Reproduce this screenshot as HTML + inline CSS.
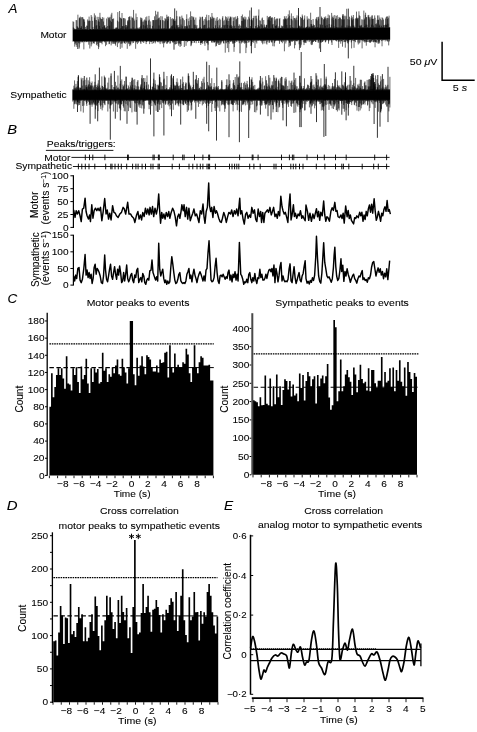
<!DOCTYPE html>
<html><head><meta charset="utf-8"><style>
html,body{margin:0;padding:0;background:#fff;}
body{width:477px;height:732px;overflow:hidden;}
svg{display:block;font-family:"Liberation Sans", sans-serif;filter:grayscale(1);}
text{stroke:#000;stroke-width:0.08px;}
</style></head><body>
<svg width="477" height="732" viewBox="0 0 477 732">
<rect width="477" height="732" fill="#fff"/>
<text transform="translate(8.58 12.90) scale(1.061 1)" text-anchor="start" style="font-size:12.6px;font-style:italic;">A</text>
<text transform="translate(40.38 38.20) scale(1.087 1)" text-anchor="start" style="font-size:9.4px;">Motor</text>
<text transform="translate(10.35 97.90) scale(1.103 1)" text-anchor="start" style="font-size:9.3px;">Sympathetic</text>
<path d="M73.00 21.3V41.7M73.35 27.4V40.9M73.70 21.9V41.0M74.05 28.0V41.7M74.40 29.0V41.7M74.75 29.1V46.7M75.10 29.1V44.1M75.45 29.4V41.9M75.80 29.1V43.0M76.15 20.0V45.0M76.50 29.0V41.7M76.85 20.3V46.9M77.20 26.1V41.7M77.55 27.2V49.0M77.90 14.7V41.7M78.25 28.0V41.7M78.60 27.6V43.3M78.95 29.1V49.0M79.30 18.2V47.6M79.65 17.4V41.7M80.00 18.4V43.5M80.35 16.6V41.7M80.70 28.1V41.7M81.05 27.7V41.1M81.40 26.2V41.6M81.75 17.3V42.4M82.10 17.2V41.6M82.45 29.0V42.3M82.80 17.2V41.6M83.15 29.2V41.6M83.50 18.8V40.7M83.85 20.0V49.4M84.20 19.2V41.6M84.55 21.7V41.6M84.90 29.0V41.6M85.25 29.0V42.2M85.60 26.9V40.9M85.95 29.2V40.8M86.30 29.3V42.1M86.65 25.6V41.6M87.00 28.8V42.1M87.35 25.8V41.6M87.70 19.4V41.0M88.05 20.6V41.6M88.40 29.9V41.6M88.75 21.2V44.7M89.10 16.6V41.6M89.45 20.6V41.3M89.80 29.0V48.5M90.15 20.8V41.6M90.50 29.0V41.6M90.85 29.0V41.6M91.20 15.0V46.4M91.55 29.8V41.6M91.90 16.7V44.3M92.25 29.0V41.6M92.60 20.8V41.4M92.95 26.9V41.6M93.30 29.0V43.2M93.65 29.0V43.2M94.00 29.0V41.6M94.35 13.4V43.7M94.70 17.6V41.6M95.05 19.8V41.6M95.40 15.4V41.2M95.75 29.0V41.6M96.10 25.8V41.6M96.45 20.0V45.2M96.80 25.1V41.6M97.15 16.8V44.0M97.50 29.0V41.6M97.85 28.7V45.8M98.20 21.2V41.5M98.55 19.4V49.1M98.90 16.9V47.2M99.25 21.8V41.3M99.60 25.9V42.4M99.95 12.8V42.6M100.30 17.6V42.8M100.65 28.5V41.5M101.00 18.8V41.5M101.35 28.9V43.0M101.70 19.1V41.5M102.05 19.0V44.3M102.40 17.1V41.5M102.75 27.1V41.5M103.10 28.9V41.0M103.45 21.5V40.8M103.80 17.6V41.5M104.15 26.3V41.5M104.50 25.5V41.5M104.85 25.1V42.5M105.20 28.9V41.5M105.55 27.7V46.2M105.90 28.3V41.5M106.25 27.1V40.6M106.60 18.5V44.8M106.95 28.9V41.5M107.30 28.9V41.6M107.65 26.0V41.0M108.00 16.9V41.5M108.35 29.1V41.5M108.70 18.0V40.7M109.05 19.5V44.2M109.40 17.5V43.9M109.75 25.6V41.8M110.10 16.8V41.0M110.45 20.6V41.1M110.80 28.9V41.7M111.15 14.5V45.4M111.50 21.8V40.5M111.85 12.8V42.4M112.20 28.9V43.7M112.55 19.1V41.5M112.90 19.1V41.5M113.25 28.9V43.8M113.60 18.4V41.8M113.95 29.2V43.4M114.30 29.0V43.8M114.65 28.9V41.5M115.00 28.6V42.3M115.35 27.6V44.3M115.70 28.8V45.7M116.05 28.8V41.9M116.40 27.9V42.5M116.75 27.3V41.5M117.10 27.8V40.5M117.45 20.6V47.1M117.80 12.1V41.4M118.15 28.8V41.7M118.50 28.8V43.3M118.85 21.6V41.4M119.20 28.8V41.4M119.55 11.0V42.5M119.90 17.2V41.4M120.25 28.8V48.9M120.60 18.0V40.5M120.95 28.0V43.8M121.30 18.4V41.4M121.65 19.1V43.6M122.00 13.0V47.7M122.35 26.1V40.7M122.70 26.2V43.4M123.05 28.8V41.9M123.40 18.0V41.4M123.75 18.3V41.0M124.10 26.1V42.7M124.45 29.5V43.1M124.80 18.1V42.5M125.15 19.2V44.0M125.50 24.9V41.4M125.85 27.5V41.4M126.20 28.8V41.5M126.55 25.1V42.7M126.90 27.2V41.4M127.25 25.7V48.8M127.60 20.5V41.4M127.95 21.6V42.3M128.30 20.1V41.7M128.65 17.1V43.4M129.00 28.8V44.1M129.35 16.8V41.9M129.70 16.3V46.2M130.05 20.2V40.8M130.40 28.8V44.1M130.75 28.4V45.3M131.10 16.5V41.4M131.45 28.7V41.3M131.80 28.7V41.3M132.15 17.8V43.3M132.50 17.6V41.3M132.85 29.5V41.3M133.20 27.4V41.5M133.55 9.9V43.0M133.90 18.7V41.0M134.25 28.7V41.3M134.60 20.5V41.3M134.95 28.7V40.9M135.30 29.3V40.7M135.65 28.4V48.8M136.00 13.5V42.4M136.35 19.9V41.4M136.70 28.7V42.3M137.05 17.0V41.4M137.40 27.7V44.1M137.75 28.7V41.3M138.10 29.5V41.3M138.45 28.7V42.7M138.80 27.7V41.3M139.15 28.7V41.3M139.50 28.7V40.7M139.85 27.1V41.3M140.20 28.7V41.3M140.55 17.5V42.5M140.90 25.8V44.0M141.25 20.0V41.3M141.60 17.8V40.6M141.95 18.5V41.2M142.30 21.6V42.1M142.65 28.7V41.3M143.00 28.7V41.2M143.35 24.9V41.3M143.70 21.6V43.0M144.05 20.3V41.3M144.40 28.7V40.4M144.75 19.4V41.3M145.10 25.7V41.3M145.45 20.5V41.3M145.80 17.2V41.1M146.15 28.7V44.1M146.50 20.6V41.9M146.85 16.4V41.8M147.20 24.8V40.5M147.55 27.7V41.3M147.90 28.7V41.3M148.25 28.6V41.2M148.60 20.6V41.2M148.95 15.9V41.2M149.30 19.6V40.9M149.65 28.2V44.1M150.00 24.8V41.7M150.35 28.6V41.2M150.70 21.4V41.7M151.05 28.6V41.7M151.40 28.6V41.9M151.75 28.6V41.2M152.10 29.5V43.9M152.45 25.9V41.2M152.80 20.1V41.2M153.15 20.2V41.2M153.50 20.1V43.2M153.85 28.6V41.2M154.20 28.6V41.1M154.55 16.3V41.2M154.90 20.2V42.2M155.25 28.6V43.4M155.60 10.8V41.2M155.95 19.8V41.7M156.30 28.6V41.0M156.65 14.5V40.3M157.00 19.8V41.2M157.35 28.6V41.2M157.70 29.2V42.2M158.05 19.1V41.9M158.40 17.9V41.2M158.75 28.6V41.2M159.10 25.4V42.5M159.45 17.5V41.2M159.80 28.8V41.2M160.15 19.8V44.1M160.50 20.3V41.2M160.85 16.1V42.1M161.20 28.6V41.2M161.55 28.6V41.3M161.90 28.6V41.2M162.25 16.4V43.6M162.60 20.1V41.2M162.95 28.6V42.5M163.30 20.4V40.7M163.65 28.3V47.4M164.00 29.5V42.9M164.35 28.0V43.3M164.70 21.2V41.7M165.05 18.0V40.8M165.40 19.3V41.4M165.75 28.5V42.4M166.10 19.3V41.1M166.45 28.5V40.9M166.80 14.7V43.7M167.15 17.0V43.7M167.50 20.6V42.3M167.85 16.5V42.6M168.20 18.8V41.3M168.55 16.4V42.1M168.90 28.5V41.1M169.25 28.9V41.1M169.60 28.5V40.3M169.95 28.5V43.7M170.30 17.0V43.3M170.65 27.5V41.1M171.00 28.5V41.0M171.35 18.7V40.6M171.70 25.9V41.1M172.05 26.7V41.1M172.40 25.3V42.5M172.75 18.1V41.8M173.10 19.2V41.1M173.45 19.1V42.6M173.80 20.2V41.1M174.15 28.5V40.8M174.50 20.9V41.8M174.85 27.3V44.3M175.20 21.0V41.1M175.55 28.5V44.4M175.90 19.4V41.1M176.25 25.2V41.1M176.60 10.7V44.0M176.95 16.2V41.1M177.30 25.5V41.1M177.65 27.7V41.1M178.00 25.0V43.3M178.35 27.0V41.1M178.70 28.2V45.7M179.05 28.6V43.8M179.40 16.5V43.2M179.75 26.8V41.1M180.10 16.7V47.0M180.45 28.5V44.0M180.80 19.3V41.1M181.15 24.5V45.9M181.50 28.4V40.8M181.85 15.6V41.0M182.20 26.2V41.0M182.55 17.8V40.1M182.90 28.7V41.0M183.25 18.6V41.0M183.60 28.3V41.0M183.95 29.4V40.5M184.30 20.2V47.0M184.65 26.3V40.6M185.00 28.4V40.6M185.35 26.2V41.0M185.70 28.4V41.1M186.05 26.2V45.8M186.40 19.0V41.0M186.75 14.3V41.0M187.10 26.8V41.0M187.45 25.5V42.2M187.80 28.4V40.8M188.15 18.6V41.0M188.50 28.4V41.2M188.85 21.1V41.0M189.20 28.4V41.0M189.55 25.2V41.0M189.90 17.3V40.9M190.25 28.2V41.3M190.60 11.4V41.0M190.95 19.9V46.2M191.30 28.4V45.3M191.65 16.1V43.5M192.00 28.1V43.0M192.35 28.4V41.0M192.70 16.5V40.9M193.05 28.4V41.0M193.40 17.7V41.0M193.75 16.8V41.0M194.10 28.4V42.9M194.45 19.7V42.5M194.80 24.8V40.1M195.15 24.7V40.5M195.50 29.2V41.0M195.85 17.5V41.0M196.20 26.4V43.2M196.55 28.4V41.0M196.90 25.0V41.0M197.25 28.4V40.8M197.60 29.2V41.0M197.95 28.4V41.0M198.30 28.3V40.9M198.65 28.8V43.0M199.00 27.7V40.0M199.35 27.9V40.9M199.70 19.6V40.9M200.05 16.7V40.9M200.40 27.3V43.0M200.75 17.5V45.0M201.10 28.3V43.2M201.45 29.3V43.0M201.80 28.3V41.9M202.15 16.9V41.9M202.50 16.7V43.7M202.85 28.2V40.9M203.20 20.7V40.9M203.55 25.4V40.9M203.90 28.3V40.9M204.25 19.1V43.5M204.60 24.9V40.7M204.95 24.8V45.8M205.30 28.3V41.8M205.65 17.2V40.9M206.00 19.4V40.5M206.35 28.3V40.9M206.70 14.7V43.0M207.05 20.6V43.4M207.40 28.3V42.7M207.75 28.3V40.5M208.10 27.7V44.7M208.45 20.2V40.9M208.80 15.1V40.9M209.15 27.4V40.9M209.50 28.3V40.9M209.85 20.2V40.9M210.20 28.2V40.0M210.55 16.9V40.9M210.90 17.8V40.4M211.25 19.0V40.9M211.60 28.3V42.2M211.95 13.0V42.8M212.30 28.3V40.9M212.65 16.6V40.9M213.00 18.8V42.4M213.35 27.2V40.9M213.70 17.8V41.6M214.05 17.8V42.6M214.40 28.3V42.5M214.75 28.3V41.8M215.10 28.2V42.0M215.45 25.3V40.8M215.80 20.7V46.5M216.15 18.4V40.8M216.50 28.2V45.9M216.85 28.2V42.6M217.20 17.0V43.8M217.55 20.9V41.4M217.90 27.1V42.6M218.25 19.8V42.8M218.60 28.2V44.9M218.95 28.2V40.7M219.30 25.3V40.8M219.65 18.6V45.0M220.00 28.2V42.4M220.35 28.2V40.8M220.70 19.6V44.4M221.05 28.2V43.2M221.40 27.3V41.5M221.75 29.2V40.8M222.10 28.0V41.7M222.45 17.7V40.8M222.80 16.1V40.8M223.15 25.1V40.8M223.50 28.2V43.1M223.85 21.1V43.6M224.20 19.8V40.4M224.55 25.3V40.4M224.90 28.2V40.8M225.25 24.7V52.7M225.60 16.3V40.8M225.95 28.2V42.6M226.30 17.1V43.3M226.65 19.7V40.3M227.00 20.9V40.4M227.35 18.4V48.1M227.70 25.0V42.0M228.05 16.5V41.4M228.40 28.2V42.3M228.75 21.0V52.2M229.10 28.2V43.7M229.45 18.5V40.8M229.80 25.6V40.8M230.15 16.4V41.7M230.50 16.9V41.5M230.85 18.1V40.8M231.20 25.0V41.8M231.55 26.6V40.7M231.90 16.8V41.0M232.25 26.2V40.7M232.60 28.1V42.6M232.95 28.1V44.0M233.30 21.1V43.4M233.65 17.5V40.7M234.00 28.1V51.8M234.35 17.3V47.1M234.70 25.8V42.8M235.05 28.2V42.8M235.40 28.1V40.7M235.75 16.6V40.7M236.10 19.7V41.4M236.45 18.8V40.7M236.80 28.1V42.0M237.15 28.5V40.7M237.50 16.1V39.8M237.85 17.9V40.7M238.20 28.1V41.4M238.55 25.9V40.3M238.90 29.1V40.7M239.25 24.3V43.2M239.60 29.0V40.7M239.95 25.4V39.9M240.30 28.1V40.7M240.65 28.1V40.7M241.00 25.9V40.7M241.35 16.0V43.5M241.70 21.0V42.3M242.05 28.1V40.9M242.40 14.5V40.7M242.75 20.8V42.0M243.10 17.4V42.9M243.45 17.5V40.7M243.80 19.0V40.7M244.15 28.1V40.7M244.50 19.5V43.6M244.85 16.5V42.1M245.20 28.1V40.7M245.55 19.4V43.2M245.90 17.3V53.1M246.25 28.1V39.7M246.60 26.9V47.7M246.95 28.1V43.0M247.30 28.1V40.7M247.65 19.5V40.7M248.00 28.1V40.7M248.35 28.0V40.0M248.70 16.7V42.6M249.05 28.0V42.1M249.40 18.5V40.7M249.75 10.4V40.0M250.10 28.0V40.6M250.45 26.1V40.6M250.80 28.0V46.0M251.15 20.0V40.4M251.50 19.0V45.6M251.85 20.2V43.6M252.20 20.4V40.6M252.55 28.0V42.0M252.90 18.2V39.8M253.25 28.0V40.6M253.60 17.9V42.7M253.95 15.8V40.6M254.30 28.0V40.6M254.65 28.8V40.3M255.00 28.8V48.0M255.35 15.8V40.6M255.70 26.0V40.1M256.05 28.0V41.9M256.40 15.7V40.6M256.75 18.5V43.5M257.10 28.0V39.8M257.45 27.2V40.6M257.80 28.0V40.6M258.15 25.1V40.6M258.50 15.6V40.2M258.85 9.4V40.6M259.20 26.0V40.6M259.55 27.4V40.1M259.90 20.1V40.2M260.25 20.9V40.6M260.60 28.8V40.6M260.95 24.3V40.6M261.30 28.0V41.4M261.65 24.3V40.6M262.00 18.5V42.9M262.35 17.5V40.5M262.70 25.4V44.3M263.05 28.0V41.2M263.40 27.6V40.6M263.75 20.0V40.8M264.10 28.0V43.5M264.45 24.5V40.6M264.80 26.6V40.6M265.15 27.1V40.5M265.50 27.9V40.5M265.85 27.5V40.5M266.20 25.3V43.5M266.55 24.9V40.1M266.90 24.8V44.5M267.25 15.9V41.8M267.60 28.0V40.5M267.95 19.8V39.9M268.30 18.2V40.4M268.65 17.0V40.5M269.00 19.8V42.5M269.35 17.0V42.8M269.70 16.3V40.5M270.05 20.8V40.5M270.40 16.1V40.3M270.75 27.9V40.2M271.10 17.6V41.6M271.45 18.1V42.4M271.80 27.9V40.5M272.15 17.0V42.5M272.50 24.5V40.5M272.85 18.1V46.2M273.20 24.1V40.2M273.55 27.6V40.5M273.90 28.4V40.5M274.25 28.8V46.4M274.60 17.0V43.0M274.95 20.6V41.5M275.30 19.3V41.1M275.65 25.9V40.5M276.00 26.0V40.5M276.35 24.8V40.5M276.70 18.6V40.5M277.05 18.7V40.5M277.40 27.9V40.4M277.75 18.5V40.5M278.10 27.9V40.5M278.45 27.9V40.5M278.80 26.3V40.5M279.15 27.9V41.2M279.50 18.9V43.8M279.85 18.1V40.0M280.20 27.9V40.5M280.55 27.9V40.5M280.90 27.9V40.5M281.25 27.9V42.0M281.60 25.5V41.6M281.95 27.8V40.4M282.30 26.2V43.2M282.65 27.3V40.4M283.00 25.9V40.4M283.35 19.4V41.6M283.70 28.2V40.6M284.05 19.2V39.8M284.40 16.2V51.3M284.75 19.7V40.4M285.10 17.8V40.4M285.45 19.1V40.3M285.80 18.7V43.5M286.15 16.1V41.6M286.50 19.3V40.4M286.85 25.0V39.7M287.20 27.8V39.7M287.55 18.4V40.4M287.90 27.7V40.4M288.25 14.3V40.8M288.60 17.4V40.4M288.95 27.8V47.1M289.30 10.4V42.5M289.65 15.8V42.9M290.00 25.0V45.9M290.35 27.8V45.5M290.70 27.8V40.4M291.05 18.7V41.2M291.40 13.4V41.6M291.75 19.0V40.4M292.10 27.8V41.2M292.45 27.3V41.7M292.80 20.3V40.4M293.15 16.1V40.4M293.50 27.8V41.1M293.85 27.8V39.6M294.20 18.0V40.4M294.55 27.8V48.4M294.90 17.9V40.4M295.25 18.8V45.1M295.60 27.8V40.4M295.95 20.2V41.0M296.30 17.6V40.4M296.65 27.8V41.1M297.00 15.3V41.5M297.35 27.8V40.6M297.70 27.8V40.4M298.05 20.1V40.4M298.40 16.2V40.3M298.75 27.7V40.0M299.10 26.2V44.3M299.45 25.6V50.1M299.80 27.7V40.3M300.15 26.7V40.3M300.50 16.9V40.6M300.85 27.7V46.7M301.20 26.2V44.7M301.55 17.8V40.3M301.90 18.5V40.0M302.25 14.5V40.0M302.60 16.2V40.3M302.95 27.7V39.4M303.30 27.7V42.2M303.65 19.8V39.7M304.00 27.7V45.1M304.35 18.6V42.9M304.70 15.4V41.8M305.05 28.5V40.3M305.40 27.7V42.9M305.75 27.7V41.7M306.10 27.7V43.1M306.45 26.8V40.3M306.80 27.2V40.3M307.15 16.3V40.0M307.50 19.7V40.3M307.85 25.9V41.4M308.20 18.5V39.8M308.55 27.7V40.3M308.90 27.3V39.4M309.25 18.8V42.1M309.60 27.3V40.3M309.95 26.5V40.3M310.30 27.7V40.7M310.65 12.7V40.3M311.00 23.9V44.4M311.35 20.0V40.3M311.70 24.2V45.1M312.05 25.6V42.8M312.40 26.1V44.6M312.75 27.7V41.9M313.10 19.0V39.6M313.45 24.4V41.9M313.80 25.8V41.3M314.15 28.3V40.2M314.50 25.1V40.9M314.85 27.7V40.3M315.20 27.6V40.2M315.55 27.3V42.0M315.90 18.7V41.9M316.25 19.3V40.2M316.60 17.2V39.7M316.95 27.6V40.2M317.30 20.4V39.9M317.65 27.1V39.4M318.00 17.1V42.6M318.35 16.7V41.0M318.70 18.7V42.6M319.05 27.6V39.4M319.40 27.6V48.5M319.75 28.1V40.2M320.10 24.0V40.2M320.45 25.1V42.2M320.80 27.6V39.6M321.15 27.6V42.9M321.50 16.5V40.2M321.85 18.1V42.0M322.20 17.8V40.2M322.55 24.8V42.0M322.90 27.6V41.4M323.25 27.6V40.2M323.60 19.2V40.6M323.95 19.5V39.7M324.30 16.9V40.2M324.65 18.1V40.2M325.00 18.9V40.2M325.35 25.8V42.4M325.70 16.4V41.9M326.05 18.0V40.2M326.40 27.6V40.3M326.75 19.4V40.3M327.10 25.1V39.6M327.45 18.0V39.8M327.80 28.5V40.2M328.15 14.5V40.2M328.50 27.6V43.7M328.85 18.2V41.3M329.20 24.0V40.2M329.55 15.4V40.2M329.90 27.3V39.3M330.25 27.6V40.2M330.60 27.6V40.2M330.95 27.6V40.2M331.30 24.6V40.2M331.65 12.9V42.5M332.00 18.5V45.0M332.35 27.5V39.3M332.70 17.1V40.1M333.05 15.6V40.1M333.40 17.8V40.3M333.75 20.1V40.1M334.10 26.3V40.1M334.45 28.3V39.9M334.80 15.0V40.1M335.15 27.5V40.1M335.50 19.0V40.1M335.85 18.2V40.9M336.20 16.0V40.1M336.55 27.0V41.4M336.90 19.4V40.4M337.25 15.2V40.1M337.60 27.5V40.1M337.95 27.5V40.1M338.30 27.5V41.8M338.65 18.9V47.9M339.00 16.9V40.5M339.35 27.5V39.9M339.70 18.0V41.7M340.05 17.3V41.2M340.40 18.3V39.8M340.75 27.5V43.7M341.10 27.5V39.5M341.45 19.1V41.3M341.80 25.6V41.1M342.15 20.0V39.4M342.50 15.7V46.7M342.85 14.2V40.1M343.20 14.3V40.1M343.55 19.5V40.1M343.90 16.2V42.2M344.25 27.3V39.1M344.60 19.3V41.9M344.95 15.6V40.1M345.30 27.5V47.7M345.65 27.5V42.0M346.00 16.3V40.1M346.35 27.5V40.6M346.70 8.8V40.1M347.05 25.4V41.3M347.40 27.5V42.8M347.75 19.1V40.8M348.10 27.5V43.6M348.45 27.9V40.0M348.80 25.7V41.8M349.15 19.7V40.0M349.50 16.7V40.0M349.85 27.4V40.4M350.20 25.9V40.0M350.55 27.4V39.8M350.90 27.4V40.0M351.25 17.8V42.4M351.60 15.6V48.4M351.95 19.2V40.0M352.30 20.2V40.5M352.65 17.3V40.4M353.00 25.5V39.1M353.35 15.0V39.6M353.70 18.9V41.0M354.05 25.6V47.8M354.40 27.4V41.3M354.75 27.4V40.0M355.10 27.4V40.0M355.45 18.4V42.2M355.80 27.4V40.0M356.15 18.7V40.0M356.50 11.6V40.0M356.85 17.4V39.2M357.20 18.6V40.0M357.55 18.4V39.9M357.90 19.6V42.5M358.25 17.9V44.5M358.60 28.1V40.2M358.95 11.3V40.0M359.30 15.3V43.4M359.65 25.5V40.0M360.00 16.1V42.5M360.35 26.0V40.0M360.70 27.1V39.6M361.05 24.9V40.6M361.40 25.4V40.0M361.75 19.3V40.0M362.10 27.4V48.4M362.45 27.4V40.0M362.80 19.6V41.1M363.15 27.4V40.0M363.50 27.4V40.3M363.85 10.6V41.7M364.20 20.0V39.1M364.55 18.5V41.3M364.90 26.0V42.7M365.25 14.9V41.4M365.60 12.7V39.6M365.95 24.5V42.2M366.30 17.4V45.7M366.65 17.0V41.9M367.00 24.8V39.9M367.35 27.3V42.0M367.70 27.3V40.0M368.05 15.2V39.0M368.40 16.7V39.9M368.75 14.9V42.0M369.10 28.2V39.2M369.45 17.3V42.7M369.80 19.5V41.9M370.15 27.3V39.0M370.50 27.3V42.8M370.85 16.8V42.1M371.20 18.5V39.9M371.55 24.6V41.5M371.90 15.6V41.2M372.25 15.3V39.9M372.60 19.1V40.0M372.95 19.0V41.9M373.30 18.7V39.9M373.65 25.5V42.4M374.00 27.3V41.9M374.35 27.3V40.2M374.70 15.4V41.6M375.05 17.8V47.3M375.40 23.9V42.0M375.75 27.3V42.3M376.10 27.3V39.0M376.45 23.4V42.5M376.80 24.6V39.6M377.15 19.8V42.6M377.50 15.4V39.9M377.85 27.1V39.9M378.20 20.1V44.0M378.55 19.7V42.8M378.90 15.4V40.8M379.25 26.1V41.6M379.60 24.6V43.4M379.95 17.5V39.9M380.30 19.1V39.9M380.65 27.3V39.9M381.00 27.4V39.1M381.35 25.7V41.1M381.70 20.2V39.8M382.05 17.3V46.3M382.40 27.2V39.8M382.75 18.0V40.5M383.10 27.2V40.4M383.45 19.5V39.8M383.80 25.2V39.8M384.15 25.2V39.8M384.50 27.7V39.8M384.85 27.2V39.8M385.20 24.8V41.4M385.55 18.5V39.8M385.90 24.5V39.8M386.25 17.0V39.8M386.60 25.1V39.8M386.95 16.3V40.9M387.30 16.5V41.3M387.65 19.0V39.8M388.00 23.7V41.7M388.35 17.6V39.4M388.70 27.2V45.4M389.05 15.7V39.5M389.40 27.2V41.4M389.75 27.2V39.8" fill="none" stroke="#000" stroke-width="0.6" />
<path d="M174.70 8.4V34.9M157.90 11.7V35.0M251.40 7.5V34.4M298.50 8.0V34.1M320.00 7.0V34.0M348.30 8.6V33.8M174.00 49.7V34.9M208.00 50.3V34.7M240.00 53.3V34.5M251.40 53.3V34.4M320.60 52.0V34.0M348.30 58.4V33.8M300.20 48.0V34.1" fill="none" stroke="#000" stroke-width="0.8" />
<path d="M73.00 29.90L112.62 29.66L152.25 29.43L191.88 29.19L231.50 28.95L271.12 28.71L310.75 28.48L350.38 28.24L390.00 28.00L390.00 39.00L350.38 39.24L310.75 39.48L271.12 39.71L231.50 39.95L191.88 40.19L152.25 40.43L112.62 40.66L73.00 40.90Z" fill="#000"/>
<path d="M72.80 89.4V101.6M73.15 89.4V100.6M73.50 89.9V99.8M73.85 85.7V108.8M74.20 88.3V100.6M74.55 80.4V104.3M74.90 89.4V103.5M75.25 87.5V101.5M75.60 88.4V100.4M75.95 83.9V103.8M76.30 88.8V104.5M76.65 86.8V100.6M77.00 88.1V100.6M77.35 81.1V102.0M77.70 86.3V101.8M78.05 77.1V101.6M78.40 76.1V105.4M78.75 89.4V103.4M79.10 90.4V100.6M79.45 87.5V105.0M79.80 89.4V103.0M80.15 87.9V100.6M80.50 87.8V100.6M80.85 87.7V111.4M81.20 77.7V99.4M81.55 79.4V100.6M81.90 89.4V100.5M82.25 85.6V99.7M82.60 89.4V106.0M82.95 78.0V99.5M83.30 80.6V112.6M83.65 89.4V100.6M84.00 88.7V105.6M84.35 89.4V100.8M84.70 89.2V100.6M85.05 79.8V99.4M85.40 85.3V100.6M85.75 89.4V100.4M86.10 87.4V102.1M86.45 87.1V104.3M86.80 84.9V106.0M87.15 87.4V102.8M87.50 89.1V100.6M87.85 86.3V100.6M88.20 80.3V100.6M88.55 85.2V101.9M88.90 84.0V100.6M89.25 87.0V105.1M89.60 77.2V103.5M89.95 81.7V104.5M90.30 84.9V99.8M90.65 85.8V100.6M91.00 86.6V105.0M91.35 83.0V103.6M91.70 85.5V100.6M92.05 81.5V106.7M92.40 89.4V104.6M92.75 85.7V100.6M93.10 90.7V103.3M93.45 87.4V102.1M93.80 89.4V103.5M94.15 85.5V105.1M94.50 89.4V100.6M94.85 81.8V104.0M95.20 84.9V102.3M95.55 89.4V109.4M95.90 90.0V104.9M96.25 89.4V105.1M96.60 87.0V100.6M96.95 84.8V106.0M97.30 88.0V103.9M97.65 85.8V99.6M98.00 83.5V111.1M98.35 80.2V102.4M98.70 86.7V102.9M99.05 88.5V100.6M99.40 89.8V100.6M99.75 85.4V100.6M100.10 89.9V104.8M100.45 87.7V106.4M100.80 89.8V109.1M101.15 89.6V100.4M101.50 89.3V100.6M101.85 76.4V105.2M102.20 85.8V110.4M102.55 86.0V100.8M102.90 88.3V107.6M103.25 89.4V102.9M103.60 87.0V100.6M103.95 89.4V100.7M104.30 75.6V103.1M104.65 77.1V104.4M105.00 84.9V105.2M105.35 88.3V100.7M105.70 89.4V100.6M106.05 88.7V100.4M106.40 88.7V100.6M106.75 89.4V100.6M107.10 87.7V100.6M107.45 89.4V100.6M107.80 82.6V111.5M108.15 89.4V103.8M108.50 89.8V100.6M108.85 77.7V104.5M109.20 89.4V100.6M109.55 89.4V100.6M109.90 89.4V108.6M110.25 89.4V100.6M110.60 89.4V105.3M110.95 75.9V105.4M111.30 89.4V104.5M111.65 89.6V100.6M112.00 85.0V100.6M112.35 89.4V104.2M112.70 89.4V100.6M113.05 89.4V100.6M113.40 90.3V111.5M113.75 87.0V100.6M114.10 89.4V102.3M114.45 90.2V100.6M114.80 87.0V101.3M115.15 88.6V100.6M115.50 81.8V100.9M115.85 89.4V103.4M116.20 89.4V103.5M116.55 85.6V100.9M116.90 89.4V100.6M117.25 89.4V111.9M117.60 87.7V100.6M117.95 75.5V104.5M118.30 87.5V100.2M118.65 89.4V104.4M119.00 88.6V102.7M119.35 89.4V108.2M119.70 89.4V100.6M120.05 83.7V108.7M120.40 89.4V103.4M120.75 81.0V110.3M121.10 89.4V101.5M121.45 89.4V104.5M121.80 79.4V104.0M122.15 89.4V100.6M122.50 89.4V101.2M122.85 84.7V100.6M123.20 87.1V105.9M123.55 86.0V107.6M123.90 89.4V102.6M124.25 84.5V111.2M124.60 81.0V100.6M124.95 89.4V100.6M125.30 89.8V111.4M125.65 89.4V100.0M126.00 76.5V103.9M126.35 88.9V101.0M126.70 84.6V100.6M127.05 88.9V100.6M127.40 88.8V99.8M127.75 88.3V105.4M128.10 89.6V100.6M128.45 85.5V111.1M128.80 89.9V100.6M129.15 87.3V100.6M129.50 89.4V101.5M129.85 89.4V107.6M130.20 82.1V100.6M130.55 85.5V108.1M130.90 89.4V100.7M131.25 87.3V100.6M131.60 80.7V100.6M131.95 88.9V112.4M132.30 78.2V100.6M132.65 84.8V100.6M133.00 88.3V100.6M133.35 89.7V100.6M133.70 79.7V100.6M134.05 89.4V101.3M134.40 88.2V111.6M134.75 79.2V102.8M135.10 85.4V100.6M135.45 89.4V103.5M135.80 89.4V111.9M136.15 89.4V100.6M136.50 89.4V111.8M136.85 86.3V100.6M137.20 81.9V103.0M137.55 89.4V100.5M137.90 90.3V100.6M138.25 89.4V100.6M138.60 86.4V104.6M138.95 90.9V106.6M139.30 90.5V102.7M139.65 89.4V104.5M140.00 89.4V108.0M140.35 87.2V104.3M140.70 85.4V100.6M141.05 84.1V100.6M141.40 87.6V99.5M141.75 77.9V108.4M142.10 79.1V104.7M142.45 89.4V100.6M142.80 89.4V105.5M143.15 87.8V102.1M143.50 78.0V101.3M143.85 88.3V100.4M144.20 89.4V108.7M144.55 86.3V100.8M144.90 78.1V100.6M145.25 89.4V100.6M145.60 89.4V100.6M145.95 89.4V100.4M146.30 85.3V100.6M146.65 82.0V100.2M147.00 75.5V99.4M147.35 88.6V100.6M147.70 89.4V99.8M148.05 89.9V100.6M148.40 84.5V100.6M148.75 89.4V104.4M149.10 90.2V109.2M149.45 89.3V105.0M149.80 89.4V100.6M150.15 89.4V103.9M150.50 85.6V100.6M150.85 90.8V102.9M151.20 90.8V100.6M151.55 89.4V99.4M151.90 89.4V106.1M152.25 86.8V100.6M152.60 86.7V100.7M152.95 89.4V99.8M153.30 83.3V102.1M153.65 78.7V100.6M154.00 90.5V100.6M154.35 87.8V103.5M154.70 89.4V103.3M155.05 80.2V105.0M155.40 83.8V105.5M155.75 88.4V100.6M156.10 89.4V110.8M156.45 90.3V100.6M156.80 89.4V99.4M157.15 84.9V103.5M157.50 89.4V112.0M157.85 89.9V104.0M158.20 84.6V100.6M158.55 85.7V102.4M158.90 85.8V100.6M159.25 89.4V104.6M159.60 77.0V109.9M159.95 77.2V99.5M160.30 81.8V99.1M160.65 89.4V104.5M161.00 89.4V99.9M161.35 82.5V99.8M161.70 89.4V108.1M162.05 86.2V100.6M162.40 89.4V101.5M162.75 85.9V103.0M163.10 89.4V100.6M163.45 90.4V103.6M163.80 79.7V101.7M164.15 78.6V100.6M164.50 89.4V100.6M164.85 89.4V100.6M165.20 89.4V103.5M165.55 89.4V104.8M165.90 84.8V103.7M166.25 88.9V101.2M166.60 88.0V100.6M166.95 76.0V100.6M167.30 89.4V100.6M167.65 89.4V100.7M168.00 90.8V104.9M168.35 89.4V104.1M168.70 89.4V100.6M169.05 89.4V106.3M169.40 89.4V103.2M169.75 87.4V100.6M170.10 87.4V109.4M170.45 89.4V105.0M170.80 75.7V100.5M171.15 85.0V100.8M171.50 89.4V100.6M171.85 88.1V100.6M172.20 77.7V100.6M172.55 89.2V103.6M172.90 89.2V100.6M173.25 79.1V109.8M173.60 81.7V99.5M173.95 88.6V99.8M174.30 84.6V100.6M174.65 85.9V99.8M175.00 88.2V100.6M175.35 86.2V105.2M175.70 85.5V104.5M176.05 85.3V100.6M176.40 81.9V100.3M176.75 89.4V103.4M177.10 78.4V100.0M177.45 84.5V103.3M177.80 82.4V99.2M178.15 89.4V105.4M178.50 86.2V104.2M178.85 88.5V106.4M179.20 85.7V101.6M179.55 89.4V100.4M179.90 88.4V103.3M180.25 85.2V103.4M180.60 89.4V99.3M180.95 90.1V103.7M181.30 90.1V100.2M181.65 88.0V99.5M182.00 87.9V100.6M182.35 83.8V103.9M182.70 76.6V100.6M183.05 89.4V105.2M183.40 82.2V104.7M183.75 90.4V105.1M184.10 86.1V102.0M184.45 89.6V100.6M184.80 90.1V100.6M185.15 89.7V103.3M185.50 84.2V103.9M185.85 82.3V103.0M186.20 83.1V100.6M186.55 89.4V100.6M186.90 89.4V105.0M187.25 89.4V111.9M187.60 89.5V102.0M187.95 89.7V100.6M188.30 75.9V103.5M188.65 84.7V102.2M189.00 75.9V105.5M189.35 82.5V100.6M189.70 84.4V100.6M190.05 89.4V101.7M190.40 86.6V101.5M190.75 85.5V103.0M191.10 87.9V110.6M191.45 89.3V105.3M191.80 90.0V109.7M192.15 89.4V100.6M192.50 87.1V101.8M192.85 89.4V100.6M193.20 89.4V100.6M193.55 84.8V99.4M193.90 89.4V99.2M194.25 89.0V100.6M194.60 89.4V102.5M194.95 89.4V100.6M195.30 79.8V100.7M195.65 79.1V100.6M196.00 89.4V100.6M196.35 90.4V100.6M196.70 82.8V100.6M197.05 89.4V102.5M197.40 83.7V100.6M197.75 80.2V100.6M198.10 89.4V102.2M198.45 78.0V106.9M198.80 89.4V100.6M199.15 88.1V100.6M199.50 88.2V100.6M199.85 89.4V103.9M200.20 86.6V100.6M200.55 89.5V100.8M200.90 90.0V101.8M201.25 87.1V100.6M201.60 81.2V100.6M201.95 89.8V99.2M202.30 83.0V105.4M202.65 89.4V100.6M203.00 78.7V100.6M203.35 89.4V104.1M203.70 89.2V100.6M204.05 76.8V100.6M204.40 82.6V102.6M204.75 89.4V99.6M205.10 89.8V100.6M205.45 89.4V103.7M205.80 89.4V99.8M206.15 89.4V100.6M206.50 88.7V107.8M206.85 87.8V99.5M207.20 89.8V103.2M207.55 82.0V100.6M207.90 89.4V102.3M208.25 84.9V106.0M208.60 86.4V103.8M208.95 85.7V100.6M209.30 87.1V103.7M209.65 89.4V100.6M210.00 90.3V100.6M210.35 83.2V102.9M210.70 86.8V100.8M211.05 87.4V100.6M211.40 86.2V101.0M211.75 78.2V111.9M212.10 88.9V100.6M212.45 89.9V104.1M212.80 89.4V100.6M213.15 89.4V100.6M213.50 88.8V100.6M213.85 86.9V99.4M214.20 83.0V100.6M214.55 89.4V100.4M214.90 87.6V108.1M215.25 89.4V111.0M215.60 90.4V102.2M215.95 86.6V101.2M216.30 86.3V100.6M216.65 88.0V100.6M217.00 89.4V106.3M217.35 86.8V99.3M217.70 89.4V100.6M218.05 87.9V107.7M218.40 86.0V100.6M218.75 90.3V99.7M219.10 89.4V101.0M219.45 89.4V99.8M219.80 89.8V111.4M220.15 89.8V100.6M220.50 88.7V100.7M220.85 89.4V100.8M221.20 89.4V100.6M221.55 89.4V105.3M221.90 81.8V103.8M222.25 89.4V100.4M222.60 89.4V104.4M222.95 89.3V102.1M223.30 89.4V104.7M223.65 89.8V100.6M224.00 89.7V104.4M224.35 89.4V105.7M224.70 89.4V111.9M225.05 89.4V104.6M225.40 89.4V101.5M225.75 88.6V99.8M226.10 85.0V103.2M226.45 89.4V100.6M226.80 84.9V100.6M227.15 89.4V100.6M227.50 89.4V100.6M227.85 86.6V104.6M228.20 87.4V104.4M228.55 85.4V100.6M228.90 89.4V105.2M229.25 89.4V100.6M229.60 84.0V100.6M229.95 80.3V104.2M230.30 89.4V100.6M230.65 88.7V99.8M231.00 90.7V100.6M231.35 90.4V103.9M231.70 87.9V104.3M232.05 89.4V103.2M232.40 89.4V104.9M232.75 89.4V104.8M233.10 83.4V111.4M233.45 80.0V104.8M233.80 82.5V101.5M234.15 89.4V100.6M234.50 85.0V102.9M234.85 86.2V99.7M235.20 77.0V100.6M235.55 89.5V100.6M235.90 89.4V104.8M236.25 89.4V101.6M236.60 89.4V100.6M236.95 88.9V103.9M237.30 87.3V110.3M237.65 84.7V100.6M238.00 77.2V105.0M238.35 77.6V100.6M238.70 84.9V99.3M239.05 76.3V100.6M239.40 89.4V112.1M239.75 83.1V111.2M240.10 87.0V100.9M240.45 87.6V99.7M240.80 88.7V100.6M241.15 89.4V100.8M241.50 82.8V111.9M241.85 87.1V100.6M242.20 89.4V100.6M242.55 89.4V104.5M242.90 89.4V105.2M243.25 90.3V104.3M243.60 83.1V103.3M243.95 89.4V104.1M244.30 89.6V101.8M244.65 81.7V100.5M245.00 89.6V102.4M245.35 87.8V105.4M245.70 84.8V100.4M246.05 83.1V99.6M246.40 89.4V100.6M246.75 88.6V101.4M247.10 80.9V104.7M247.45 84.3V100.6M247.80 89.4V103.2M248.15 89.4V101.9M248.50 87.3V100.6M248.85 89.4V100.6M249.20 88.5V100.6M249.55 89.4V110.3M249.90 84.8V108.4M250.25 90.1V100.6M250.60 89.4V101.2M250.95 87.7V104.9M251.30 87.4V100.6M251.65 80.1V101.6M252.00 77.3V101.5M252.35 88.5V100.6M252.70 81.9V104.4M253.05 86.4V100.4M253.40 85.7V100.6M253.75 89.2V100.6M254.10 89.4V100.6M254.45 89.4V112.1M254.80 84.9V100.4M255.15 89.4V100.6M255.50 90.3V100.6M255.85 89.4V112.4M256.20 90.5V99.2M256.55 89.4V106.4M256.90 89.7V110.3M257.25 89.4V105.5M257.60 88.4V100.6M257.95 89.4V100.6M258.30 89.4V100.3M258.65 88.6V100.6M259.00 87.5V100.6M259.35 88.0V100.6M259.70 80.3V100.6M260.05 81.4V105.2M260.40 89.4V100.6M260.75 83.1V101.6M261.10 84.4V100.6M261.45 89.4V105.6M261.80 89.4V103.5M262.15 77.8V105.3M262.50 89.4V100.6M262.85 81.6V100.8M263.20 89.4V100.6M263.55 89.4V100.6M263.90 89.4V100.6M264.25 86.0V103.1M264.60 85.3V100.9M264.95 89.4V105.1M265.30 89.4V104.0M265.65 76.2V108.6M266.00 89.4V104.2M266.35 89.1V104.8M266.70 86.2V103.8M267.05 83.5V103.8M267.40 86.6V101.5M267.75 89.4V100.6M268.10 89.4V102.8M268.45 89.4V100.6M268.80 85.3V105.3M269.15 90.1V100.6M269.50 86.5V105.5M269.85 77.7V103.2M270.20 89.3V100.6M270.55 87.8V104.6M270.90 89.4V102.1M271.25 86.2V100.6M271.60 84.8V100.0M271.95 89.4V100.3M272.30 81.4V105.1M272.65 85.8V105.0M273.00 85.0V112.4M273.35 89.4V109.3M273.70 89.4V99.7M274.05 89.4V100.6M274.40 77.7V102.1M274.75 89.4V100.6M275.10 89.4V103.5M275.45 80.8V100.0M275.80 87.7V101.5M276.15 77.5V106.7M276.50 89.4V105.3M276.85 89.4V102.9M277.20 89.4V102.7M277.55 90.7V99.9M277.90 86.8V112.2M278.25 81.1V100.6M278.60 79.5V100.6M278.95 81.2V107.7M279.30 89.4V105.4M279.65 90.8V107.0M280.00 83.3V100.6M280.35 78.2V100.6M280.70 89.4V100.6M281.05 89.4V99.4M281.40 84.6V102.8M281.75 88.2V100.6M282.10 77.0V100.4M282.45 85.5V105.2M282.80 85.2V107.9M283.15 89.4V103.6M283.50 85.5V100.6M283.85 86.0V100.1M284.20 86.6V100.6M284.55 89.4V100.6M284.90 78.5V103.8M285.25 81.2V100.6M285.60 90.0V100.1M285.95 77.2V102.4M286.30 79.4V102.6M286.65 90.5V100.6M287.00 89.4V104.5M287.35 90.3V101.6M287.70 85.9V103.5M288.05 89.4V102.4M288.40 89.4V106.9M288.75 90.4V99.7M289.10 80.6V102.4M289.45 89.4V100.1M289.80 88.8V100.6M290.15 89.4V100.2M290.50 90.1V100.6M290.85 83.0V106.0M291.20 81.4V103.9M291.55 89.4V106.8M291.90 80.5V100.6M292.25 85.0V100.5M292.60 89.6V103.6M292.95 89.4V100.8M293.30 82.4V103.6M293.65 89.9V102.6M294.00 89.4V100.6M294.35 87.6V100.4M294.70 79.9V100.6M295.05 84.8V100.6M295.40 90.0V99.9M295.75 78.1V112.4M296.10 86.3V100.6M296.45 88.8V102.9M296.80 89.4V103.6M297.15 86.3V105.5M297.50 90.9V103.8M297.85 89.4V106.7M298.20 89.4V100.6M298.55 88.4V100.6M298.90 90.6V104.8M299.25 89.4V105.0M299.60 89.4V100.6M299.95 75.7V112.2M300.30 82.6V109.0M300.65 88.5V109.7M301.00 89.1V109.1M301.35 86.6V102.6M301.70 85.9V100.6M302.05 89.4V107.3M302.40 89.4V108.2M302.75 88.3V100.6M303.10 89.4V103.9M303.45 88.0V101.1M303.80 86.0V100.6M304.15 89.4V100.6M304.50 78.3V110.5M304.85 90.5V99.3M305.20 89.4V110.3M305.55 89.4V100.6M305.90 88.7V104.3M306.25 89.4V101.5M306.60 87.7V100.6M306.95 89.4V100.6M307.30 89.4V101.8M307.65 84.6V100.1M308.00 84.9V100.6M308.35 85.4V100.6M308.70 89.7V100.6M309.05 90.1V100.6M309.40 88.3V107.4M309.75 88.4V99.2M310.10 86.0V103.5M310.45 82.7V103.5M310.80 81.8V104.7M311.15 89.4V102.9M311.50 81.5V101.2M311.85 79.0V106.5M312.20 88.9V101.5M312.55 89.4V105.5M312.90 85.3V102.9M313.25 90.7V100.6M313.60 89.4V104.1M313.95 84.5V101.6M314.30 86.8V100.6M314.65 89.4V108.3M315.00 89.4V100.8M315.35 89.4V105.6M315.70 87.9V99.1M316.05 90.3V101.9M316.40 81.8V100.6M316.75 75.6V102.4M317.10 88.5V100.6M317.45 85.2V101.3M317.80 79.3V99.6M318.15 89.4V99.8M318.50 79.6V101.2M318.85 89.4V101.8M319.20 89.4V101.7M319.55 86.6V100.6M319.90 88.3V104.2M320.25 85.5V103.9M320.60 89.5V100.6M320.95 78.3V102.2M321.30 89.8V110.5M321.65 86.7V103.1M322.00 87.6V102.7M322.35 87.8V106.5M322.70 86.5V109.9M323.05 89.4V107.2M323.40 85.5V110.9M323.75 88.0V100.6M324.10 89.4V106.3M324.45 84.1V100.6M324.80 89.4V100.6M325.15 85.4V104.5M325.50 84.3V100.6M325.85 85.5V100.6M326.20 76.6V104.9M326.55 90.7V99.5M326.90 86.8V100.1M327.25 89.1V100.6M327.60 89.4V100.6M327.95 89.4V104.3M328.30 84.9V100.6M328.65 89.4V99.7M329.00 89.4V109.9M329.35 89.4V103.6M329.70 85.8V100.4M330.05 89.4V103.9M330.40 89.4V103.6M330.75 89.4V105.3M331.10 87.6V105.8M331.45 89.4V100.6M331.80 89.4V100.5M332.15 86.1V108.4M332.50 83.0V100.6M332.85 87.6V100.6M333.20 86.2V104.4M333.55 89.1V109.0M333.90 87.1V101.9M334.25 85.7V104.5M334.60 79.0V106.5M334.95 89.4V104.7M335.30 89.4V100.6M335.65 89.4V103.5M336.00 89.4V99.8M336.35 87.6V100.5M336.70 89.4V100.1M337.05 87.1V102.2M337.40 80.4V111.5M337.75 84.9V99.3M338.10 89.4V109.4M338.45 85.8V103.8M338.80 87.2V108.2M339.15 90.5V110.4M339.50 87.3V100.6M339.85 85.4V100.6M340.20 89.3V100.7M340.55 87.7V101.1M340.90 88.5V100.6M341.25 89.4V100.6M341.60 88.8V103.6M341.95 89.4V100.6M342.30 90.7V100.6M342.65 84.8V101.1M343.00 84.7V108.7M343.35 85.9V100.6M343.70 89.7V104.9M344.05 86.6V108.8M344.40 82.2V111.7M344.75 88.5V100.6M345.10 89.4V103.2M345.45 76.8V100.0M345.80 86.3V100.6M346.15 86.7V110.2M346.50 88.0V103.0M346.85 90.1V100.6M347.20 85.8V102.6M347.55 89.4V103.9M347.90 84.8V103.8M348.25 89.7V102.4M348.60 90.1V107.7M348.95 89.4V101.9M349.30 84.6V103.3M349.65 89.4V104.0M350.00 90.2V102.0M350.35 89.4V102.0M350.70 89.4V100.1M351.05 80.6V100.6M351.40 89.4V102.7M351.75 90.7V105.1M352.10 87.1V100.6M352.45 84.9V101.1M352.80 89.4V101.5M353.15 87.8V100.1M353.50 90.4V100.4M353.85 83.2V100.6M354.20 89.3V104.6M354.55 86.1V105.2M354.90 87.0V100.6M355.25 90.5V100.6M355.60 77.9V102.3M355.95 88.1V102.9M356.30 89.1V106.2M356.65 89.4V100.6M357.00 87.6V110.6M357.35 88.2V100.6M357.70 84.5V100.6M358.05 89.4V100.6M358.40 85.6V107.0M358.75 89.4V111.3M359.10 83.7V100.6M359.45 89.2V107.0M359.80 86.3V103.4M360.15 87.8V110.4M360.50 89.7V100.6M360.85 88.1V103.6M361.20 89.4V108.4M361.55 79.8V105.3M361.90 89.4V100.6M362.25 89.4V104.6M362.60 86.1V100.6M362.95 89.4V100.6M363.30 89.4V104.2M363.65 88.9V104.3M364.00 89.4V100.6M364.35 82.9V102.8M364.70 88.7V100.1M365.05 89.4V104.6M365.40 85.4V100.8M365.75 90.8V101.6M366.10 85.3V99.1M366.45 89.4V100.7M366.80 90.3V100.6M367.15 79.9V101.0M367.50 89.4V105.5M367.85 89.4V104.6M368.20 86.3V100.6M368.55 79.5V100.6M368.90 87.4V101.7M369.25 86.3V111.1M369.60 79.0V100.6M369.95 89.4V107.9M370.30 89.4V99.8M370.65 86.3V100.6M371.00 78.4V100.6M371.35 89.4V102.1M371.70 89.4V99.8M372.05 77.1V103.5M372.40 89.4V100.0M372.75 88.7V100.6M373.10 89.4V104.3M373.45 82.8V100.6M373.80 90.4V99.2M374.15 88.2V100.6M374.50 85.4V100.6M374.85 82.3V102.3M375.20 86.7V107.9M375.55 75.4V101.3M375.90 90.3V101.8M376.25 89.4V100.6M376.60 89.4V100.6M376.95 79.2V101.6M377.30 86.9V102.6M377.65 87.7V99.8M378.00 89.4V100.6M378.35 83.4V111.7M378.70 89.4V100.6M379.05 85.2V100.6M379.40 84.9V100.6M379.75 89.4V102.9M380.10 89.0V100.6M380.45 81.4V112.1M380.80 76.2V112.5M381.15 87.9V110.7M381.50 89.4V108.9M381.85 79.6V100.6M382.20 89.4V101.2M382.55 89.4V104.2M382.90 86.7V100.6M383.25 88.4V103.7M383.60 78.9V102.9M383.95 89.4V100.6M384.30 89.4V102.5M384.65 88.7V100.6M385.00 87.3V100.6M385.35 89.4V100.9M385.70 84.8V104.6M386.05 87.3V100.6M386.40 88.8V100.0M386.75 86.3V106.5M387.10 89.4V106.6M387.45 89.4V100.6M387.80 84.8V100.6M388.15 90.9V100.6M388.50 89.4V104.1M388.85 89.4V111.4M389.20 89.4V104.5M389.55 89.4V103.5M389.90 76.8V107.5" fill="none" stroke="#000" stroke-width="0.6" />
<path d="M78.40 75.1V95.0M84.30 76.0V95.0M86.80 77.6V95.0M95.20 74.3V95.0M99.40 67.6V95.0M105.20 77.6V95.0M111.10 73.4V95.0M114.40 70.9V95.0M120.30 65.9V95.0M126.20 76.8V95.0M132.10 77.6V95.0M137.90 80.2V95.0M142.10 75.1V95.0M144.60 81.8V95.0M150.50 58.4V95.0M153.90 72.6V95.0M159.40 74.3V95.0M163.90 71.8V95.0M171.50 74.3V95.0M173.50 76.0V95.0M180.70 79.3V95.0M188.30 73.4V95.0M193.30 71.8V95.0M196.30 75.1V95.0M206.70 61.7V95.0M209.20 65.1V95.0M216.80 67.6V95.0M221.80 80.2V95.0M226.90 79.3V95.0M229.00 74.3V95.0M236.90 74.3V95.0M239.80 61.4V95.0M249.50 76.8V95.0M251.20 79.3V95.0M260.40 76.0V95.0M266.30 80.2V95.0M268.80 75.1V95.0M273.80 75.1V95.0M276.30 78.5V95.0M281.40 76.8V95.0M294.00 72.6V95.0M299.80 76.0V95.0M301.20 52.0V95.0M311.00 76.0V95.0M316.00 73.2V95.0M324.30 64.0V95.0M326.10 78.7V95.0M335.40 72.3V95.0M341.80 71.4V95.0M345.50 72.3V95.0M350.10 76.0V95.0M353.80 65.8V95.0M360.30 79.7V95.0M364.90 81.5V95.0M373.20 73.2V95.0M377.80 75.0V95.0M382.40 74.1V95.0M388.00 66.8V95.0M77.50 112.0V95.0M90.10 123.8V95.0M95.20 118.7V95.0M97.70 121.3V95.0M110.30 139.7V95.0M115.30 118.7V95.0M120.30 120.4V95.0M127.00 123.8V95.0M137.10 124.6V95.0M143.80 113.7V95.0M150.50 114.6V95.0M153.90 136.4V95.0M158.10 112.0V95.0M163.90 135.5V95.0M171.50 116.2V95.0M180.70 124.6V95.0M188.30 110.4V95.0M195.80 118.8V95.0M206.70 123.8V95.0M208.70 131.3V95.0M216.50 140.6V95.0M225.20 108.7V95.0M229.00 137.2V95.0M239.40 142.2V95.0M248.70 138.0V95.0M260.40 114.6V95.0M268.00 116.2V95.0M271.00 119.6V95.0M276.30 112.0V95.0M283.00 120.4V95.0M286.40 126.3V95.0M294.00 112.9V95.0M299.80 127.1V95.0M301.20 127.1V95.0M311.00 113.8V95.0M316.50 122.1V95.0M323.90 136.9V95.0M325.80 136.0V95.0M336.30 110.1V95.0M341.80 114.7V95.0M346.10 120.3V95.0M348.30 115.6V95.0M374.10 124.0V95.0M380.00 126.7V95.0M388.00 122.1V95.0M377.40 137.8V95.0" fill="none" stroke="#000" stroke-width="0.8" />
<path d="M72.80 90.20L112.45 90.20L152.10 90.20L191.75 90.20L231.40 90.20L271.05 90.20L310.70 90.20L350.35 90.20L390.00 90.20L390.00 99.80L350.35 99.80L310.70 99.80L271.05 99.80L231.40 99.80L191.75 99.80L152.10 99.80L112.45 99.80L72.80 99.80Z" fill="#000"/>
<path d="M370.20 80.0V90M370.90 76.0V90M371.60 74.0V90M372.30 73.5V90M373.00 75.0V90M373.70 78.0V90M374.40 82.0V90M375.10 84.0V90" fill="none" stroke="#000" stroke-width="0.8" />
<path d="M442.1 41.7V80.2H474.7" fill="none" stroke="#000" stroke-width="1.5" />
<text transform="translate(409.73 65.10) scale(1.133 1)" text-anchor="start" style="font-size:9.4px;">50 <tspan style="font-style:italic">μ</tspan>V</text>
<text transform="translate(452.72 91.10) scale(1.157 1)" text-anchor="start" style="font-size:9.3px;">5 <tspan style="font-style:italic">s</tspan></text>
<text transform="translate(7.21 133.60) scale(1.174 1)" text-anchor="start" style="font-size:12.6px;font-style:italic;">B</text>
<text transform="translate(46.76 146.80) scale(1.114 1)" text-anchor="start" style="font-size:9.3px;">Peaks/triggers:</text>
<line x1="45.90" y1="150.40" x2="113.40" y2="150.40" stroke="#000" stroke-width="0.9" />
<text transform="translate(44.27 161.00) scale(1.100 1)" text-anchor="start" style="font-size:9.3px;">Motor</text>
<text transform="translate(15.45 169.20) scale(1.107 1)" text-anchor="start" style="font-size:9.3px;">Sympathetic</text>
<line x1="71.40" y1="157.40" x2="389.60" y2="157.40" stroke="#000" stroke-width="0.9" />
<line x1="72.90" y1="166.50" x2="389.60" y2="166.50" stroke="#000" stroke-width="0.9" />
<path d="M85.3 154.6V160.2M89.5 154.6V160.2M92.8 154.6V160.2M104.9 154.6V160.2M127.5 154.6V160.2M128.4 154.6V160.2M153.0 154.6V160.2M154.2 154.6V160.2M158.4 154.6V160.2M159.3 154.6V160.2M173.2 154.6V160.2M182.7 154.6V160.2M184.1 154.6V160.2M194.5 154.6V160.2M202.9 154.6V160.2M208.7 154.6V160.2M209.6 154.6V160.2M239.6 154.6V160.2M252.2 154.6V160.2M253.0 154.6V160.2M258.1 154.6V160.2M281.5 154.6V160.2M289.4 154.6V160.2M292.4 154.6V160.2M293.8 154.6V160.2M307.0 154.6V160.2M317.5 154.6V160.2M324.3 154.6V160.2M335.5 154.6V160.2M346.2 154.6V160.2M374.7 154.6V160.2M386.6 154.6V160.2" fill="none" stroke="#000" stroke-width="0.9" />
<path d="M78.4 163.7V169.3M81.8 163.7V169.3M85.3 163.7V169.3M89.0 163.7V169.3M94.8 163.7V169.3M105.7 163.7V169.3M110.8 163.7V169.3M112.0 163.7V169.3M115.0 163.7V169.3M118.3 163.7V169.3M121.3 163.7V169.3M126.7 163.7V169.3M132.6 163.7V169.3M135.9 163.7V169.3M138.1 163.7V169.3M142.1 163.7V169.3M145.5 163.7V169.3M150.9 163.7V169.3M153.0 163.7V169.3M158.1 163.7V169.3M159.3 163.7V169.3M172.2 163.7V169.3M179.4 163.7V169.3M189.0 163.7V169.3M192.8 163.7V169.3M197.0 163.7V169.3M200.3 163.7V169.3M202.9 163.7V169.3M207.0 163.7V169.3M208.4 163.7V169.3M209.6 163.7V169.3M215.4 163.7V169.3M229.5 163.7V169.3M232.0 163.7V169.3M234.6 163.7V169.3M236.8 163.7V169.3M238.8 163.7V169.3M249.7 163.7V169.3M253.9 163.7V169.3M260.2 163.7V169.3M274.0 163.7V169.3M276.0 163.7V169.3M281.5 163.7V169.3M290.8 163.7V169.3M293.3 163.7V169.3M295.8 163.7V169.3M299.5 163.7V169.3M303.0 163.7V169.3M316.3 163.7V169.3M324.9 163.7V169.3M335.5 163.7V169.3M341.8 163.7V169.3M343.4 163.7V169.3M348.8 163.7V169.3M362.2 163.7V169.3M373.7 163.7V169.3M378.3 163.7V169.3M386.6 163.7V169.3" fill="none" stroke="#000" stroke-width="0.9" />
<path d="M73.4 175.3V227.9" fill="none" stroke="#000" stroke-width="1.2" />
<path d="M73.4 227.40H70.4M73.4 214.50H70.4M73.4 201.60H70.4M73.4 188.70H70.4M73.4 175.80H70.4" fill="none" stroke="#000" stroke-width="1.0" />
<text transform="translate(62.98 230.65) scale(1.100 1)" text-anchor="start" style="font-size:9.2px;">0</text>
<text transform="translate(57.20 217.75) scale(1.100 1)" text-anchor="start" style="font-size:9.2px;">25</text>
<text transform="translate(57.20 204.85) scale(1.100 1)" text-anchor="start" style="font-size:9.2px;">50</text>
<text transform="translate(57.20 191.82) scale(1.100 1)" text-anchor="start" style="font-size:9.2px;">75</text>
<text transform="translate(51.70 179.05) scale(1.100 1)" text-anchor="start" style="font-size:9.2px;">100</text>
<text transform="translate(37.70 217.97) rotate(-90) scale(1.030 1.000)" style="font-size:10px;">Motor</text>
<text transform="translate(49.30 224.41) rotate(-90) scale(1.029 1.000)" style="font-size:10px;">(events s<tspan dy="-3.2" style="font-size:6.5px">−1</tspan><tspan dy="3.2">)</tspan></text>
<path d="M73.68 209.87L75.02 217.41L76.19 210.70L77.37 214.06L78.71 210.70L80.05 215.74L81.22 221.61L82.40 209.03L83.74 208.19L85.08 198.13L86.09 211.54L87.09 215.74L88.44 219.09L89.61 214.90L90.45 221.61L91.79 204.83L92.96 218.25L94.14 210.70L95.48 208.19L96.82 210.70L98.00 208.19L99.17 210.70L100.51 207.35L101.85 220.77L103.19 211.54L104.70 198.46L106.05 214.06L107.22 209.87L108.56 219.09L109.74 213.22L111.08 219.93L112.59 205.67L113.93 212.38L115.27 213.22L116.44 215.74L118.12 217.41L119.80 214.06L121.48 212.38L123.15 207.35L124.33 209.03L125.67 214.06L127.68 202.32L129.02 214.06L130.70 214.06L132.04 216.57L133.72 218.25L134.89 222.44L136.57 214.90L137.91 211.54L139.09 219.09L140.43 214.90L141.60 219.93L142.78 212.38L144.12 216.57L145.46 208.19L146.63 214.06L147.81 209.03L149.15 214.90L150.00 207.35L151.34 214.06L152.52 206.51L153.69 216.57L155.03 208.19L156.37 214.06L157.55 208.19L158.72 193.93L159.73 211.54L160.57 223.28L161.74 212.38L162.75 218.25L163.92 214.06L165.09 219.09L166.27 212.38L167.61 216.57L168.78 211.54L169.79 218.25L170.96 213.22L172.64 208.19L173.82 210.70L175.16 216.57L176.50 225.80L177.67 216.57L178.85 214.06L179.85 218.25L181.03 211.54L181.87 204.83L183.21 210.70L184.05 204.83L185.22 216.57L186.56 207.35L187.74 219.09L188.91 208.19L190.25 220.77L191.59 216.57L192.77 213.22L193.94 209.03L195.28 215.74L196.62 214.06L197.80 218.25L198.97 222.44L200.31 210.70L201.66 214.06L203.00 204.00L204.00 216.57L205.01 223.28L206.18 211.54L207.36 207.35L208.70 183.03L209.54 205.67L210.71 211.54L211.72 207.35L212.89 217.41L214.07 206.51L215.41 213.22L216.42 210.70L217.42 213.22L218.76 218.25L220.10 221.61L221.28 222.44L222.45 218.25L223.79 212.38L225.14 216.57L226.31 222.44L227.48 217.41L228.83 212.38L230.52 214.06L231.69 209.87L233.03 216.57L234.37 210.70L235.55 214.06L236.72 209.03L238.06 215.74L239.74 198.13L240.58 214.06L241.75 210.70L243.09 219.09L244.27 224.12L245.61 214.06L246.78 212.38L248.13 218.25L249.47 214.90L250.64 217.41L251.82 207.35L253.16 213.22L254.50 209.87L255.67 219.09L256.85 221.61L258.19 209.03L259.53 216.57L260.70 211.54L261.54 222.44L262.72 212.38L263.89 222.44L264.90 213.22L266.24 211.54L267.41 209.87L268.59 212.38L269.93 207.35L271.27 214.90L272.44 211.54L273.62 207.35L274.96 216.57L276.13 214.06L277.31 218.25L278.31 211.54L279.66 215.74L280.83 196.11L282.00 206.51L283.01 210.70L284.18 214.06L285.36 212.38L286.70 217.41L287.87 222.44L289.05 204.83L290.05 193.93L291.06 219.93L292.07 214.90L293.41 204.83L294.42 216.57L295.42 213.22L296.76 218.25L298.10 214.06L299.28 215.74L300.45 210.70L301.79 218.25L302.80 215.74L303.81 218.25L305.15 220.77L306.00 205.04L307.44 211.35L308.70 220.37L309.97 213.15L311.41 221.27L312.85 214.06L314.11 218.56L315.37 213.15L316.46 208.65L317.54 216.76L318.62 211.35L319.70 220.37L320.78 212.25L322.22 215.86L323.67 201.08L324.75 214.96L325.83 221.27L326.91 216.76L327.99 217.66L329.44 221.27L330.88 211.35L332.14 207.75L333.40 210.45L334.84 202.34L335.93 211.35L337.01 210.45L338.09 216.76L339.53 217.66L340.97 214.96L342.06 218.56L343.14 213.15L344.22 223.07L345.66 205.94L347.10 216.76L348.18 210.45L349.27 218.56L350.35 214.96L351.43 220.37L352.51 222.17L353.59 223.97L354.67 217.66L355.76 218.56L356.84 215.86L358.28 217.66L359.72 212.25L360.80 215.86L361.89 212.25L362.97 221.27L364.05 214.96L365.13 219.46L366.21 211.35L367.29 215.86L368.38 208.65L369.46 205.04L370.54 212.25L371.62 204.14L372.70 213.15L374.14 198.73L375.23 211.35L376.31 220.37L377.39 216.76L378.47 211.35L379.55 215.86L380.63 221.27L381.72 213.15L382.80 215.86L383.88 209.55L384.96 206.84L386.04 211.35L387.12 200.53L388.21 211.35L389.29 209.55L390.37 214.06" fill="none" stroke="#000" stroke-width="1.45" stroke-linejoin="round"/>
<path d="M73.4 234.7V285.6" fill="none" stroke="#000" stroke-width="1.2" />
<path d="M73.4 285.10H70.4M73.4 268.47H70.4M73.4 251.83H70.4M73.4 235.20H70.4" fill="none" stroke="#000" stroke-width="1.0" />
<text transform="translate(62.98 288.35) scale(1.100 1)" text-anchor="start" style="font-size:9.2px;">0</text>
<text transform="translate(57.20 271.72) scale(1.100 1)" text-anchor="start" style="font-size:9.2px;">50</text>
<text transform="translate(51.70 255.08) scale(1.100 1)" text-anchor="start" style="font-size:9.2px;">100</text>
<text transform="translate(51.70 238.45) scale(1.100 1)" text-anchor="start" style="font-size:9.2px;">150</text>
<text transform="translate(38.60 287.10) rotate(-90) scale(0.999 1.000)" style="font-size:10px;">Sympathetic</text>
<text transform="translate(49.30 285.43) rotate(-90) scale(1.063 1.000)" style="font-size:10px;">(events s<tspan dy="-3.2" style="font-size:6.5px">−1</tspan><tspan dy="3.2">)</tspan></text>
<path d="M73.68 275.93L74.68 280.96L75.69 275.09L76.70 278.44L77.87 268.38L79.04 267.54L80.05 280.12L81.22 282.64L82.40 279.28L83.74 269.22L85.08 254.46L86.09 275.09L87.09 270.06L88.10 277.61L89.11 272.57L90.11 278.44L91.12 274.25L92.13 283.48L93.13 278.44L94.14 267.54L95.14 264.19L96.15 274.25L97.16 268.38L98.16 270.06L99.17 272.57L100.18 275.93L101.35 282.64L102.52 283.48L103.53 275.93L104.70 254.96L105.54 270.06L106.55 279.28L107.56 281.80L108.56 275.93L109.57 269.22L110.57 264.19L111.58 275.93L112.59 279.28L113.59 272.57L114.60 266.70L115.61 274.25L116.61 279.28L117.62 269.22L118.62 275.09L119.63 265.87L120.64 272.57L121.64 282.64L122.65 280.96L123.66 272.57L124.66 280.96L125.67 274.25L126.68 265.03L127.68 278.44L128.69 281.80L129.69 279.28L130.70 275.09L131.71 273.41L132.71 280.12L133.72 282.64L134.73 275.09L135.73 277.61L136.74 270.06L137.74 268.38L138.75 282.64L139.76 279.28L140.76 277.61L141.77 281.80L142.78 273.41L143.78 275.93L144.79 282.64L145.79 284.31L146.80 280.12L147.81 278.44L148.81 280.12L149.82 270.90L151.01 270.06L152.01 260.00L153.02 272.57L154.70 277.61L155.70 280.12L156.71 276.77L157.71 280.96L158.72 243.22L159.73 269.22L160.73 275.93L161.74 272.57L162.75 269.22L163.75 278.44L164.76 282.64L165.77 280.12L166.77 284.31L167.78 280.96L168.78 283.48L169.79 281.80L170.80 267.54L171.80 256.64L172.81 264.19L173.82 272.57L174.82 280.12L175.83 283.48L176.83 282.64L177.84 279.28L178.85 274.25L179.85 272.57L180.86 280.96L181.87 282.64L182.87 283.48L183.88 282.64L184.88 283.48L185.89 280.96L186.90 274.25L187.90 271.74L188.91 268.38L189.92 278.44L190.92 275.09L191.93 281.80L192.94 274.25L193.94 269.22L194.95 275.09L195.95 278.44L196.96 282.64L197.97 277.61L198.97 274.25L199.98 271.74L200.99 274.25L201.99 277.61L203.00 280.96L204.00 275.93L205.01 280.96L206.02 270.06L207.02 268.38L208.03 252.45L209.04 240.71L210.04 260.83L211.05 280.12L212.05 281.80L213.06 280.96L214.07 277.61L215.07 266.70L216.08 258.32L217.09 272.57L218.09 280.96L219.10 283.48L220.10 275.93L221.11 275.09L222.12 276.77L223.12 274.25L224.13 276.77L225.14 279.28L226.14 276.77L227.15 278.44L228.00 272.57L229.01 270.06L230.01 280.12L231.02 275.09L232.03 281.80L233.03 274.25L234.04 277.61L235.04 271.74L236.05 280.12L237.06 274.25L238.06 280.96L239.40 242.39L240.75 274.25L241.75 275.93L242.76 279.28L243.77 284.31L244.77 281.80L245.78 282.64L246.78 279.28L247.79 282.64L248.80 274.25L249.80 272.57L250.81 279.28L251.82 282.64L252.82 277.61L253.83 280.96L254.83 273.41L255.84 280.12L256.85 283.48L257.85 277.61L258.86 278.44L259.87 269.22L260.87 277.61L261.88 274.25L262.88 280.12L263.89 280.12L264.90 278.44L265.90 274.25L266.91 278.44L267.92 273.41L268.92 270.06L269.93 269.22L270.94 271.74L271.94 268.38L272.95 275.93L273.95 265.03L274.96 282.64L275.97 268.38L276.97 273.41L277.98 281.80L278.99 275.93L279.99 266.70L281.00 262.51L282.00 280.96L283.01 275.93L284.02 280.12L285.02 281.80L286.03 280.96L287.04 281.80L288.04 279.28L289.05 269.22L290.05 263.85L291.06 280.96L292.07 282.64L293.07 274.25L294.08 266.70L295.09 277.61L296.09 283.48L297.10 280.12L298.10 275.93L299.11 272.57L300.12 280.12L301.12 281.80L302.13 275.93L303.14 273.41L304.14 266.70L305.15 260.83L306.00 278.67L307.08 283.18L308.16 281.38L309.24 284.08L310.33 280.48L311.41 282.28L312.49 277.77L313.57 280.48L314.65 275.07L315.73 257.04L316.46 236.31L317.54 258.84L318.62 275.97L319.70 281.38L320.78 283.18L321.86 273.27L322.95 255.24L323.67 242.62L324.75 262.45L325.83 268.76L326.91 275.97L327.99 277.77L329.08 276.87L330.16 279.58L331.24 282.28L332.32 278.67L333.40 267.86L334.12 255.24L334.84 247.13L335.75 266.06L336.65 275.97L337.73 280.48L338.81 278.67L339.89 270.56L340.97 258.84L341.69 271.46L342.78 265.15L343.86 281.38L344.94 271.46L346.02 275.97L347.10 268.76L348.18 274.17L349.27 277.77L350.35 282.28L351.43 278.67L352.51 275.97L353.59 274.17L354.67 278.67L355.76 280.48L356.84 283.18L357.92 278.67L359.00 275.97L360.08 276.87L361.16 273.27L362.25 270.56L362.97 279.58L364.05 277.77L365.13 280.48L366.21 279.58L367.29 282.28L368.38 277.77L369.46 278.67L370.54 275.07L371.62 266.96L372.70 262.45L373.78 261.55L374.87 268.76L375.95 275.97L377.03 271.46L378.11 267.86L379.19 272.37L380.27 268.76L381.36 275.07L382.44 271.46L383.52 278.67L384.60 273.27L385.68 276.87L386.76 268.76L387.85 279.58L388.93 268.76L389.65 260.65" fill="none" stroke="#000" stroke-width="1.45" stroke-linejoin="round"/>
<text transform="translate(7.50 303.40) scale(1.067 1)" text-anchor="start" style="font-size:12.6px;font-style:italic;">C</text>
<text transform="translate(86.67 306.30) scale(1.112 1)" text-anchor="start" style="font-size:9.4px;">Motor peaks to events</text>
<text transform="translate(275.34 306.30) scale(1.110 1)" text-anchor="start" style="font-size:9.4px;">Sympathetic peaks to events</text>
<path d="M49.40 475.40L49.40 406.76L51.04 406.76L51.04 373.30L52.68 373.30L52.68 397.32L54.32 397.32L54.32 387.03L55.96 387.03L55.96 375.01L57.60 375.01L57.60 368.15L59.24 368.15L59.24 375.01L60.88 375.01L60.88 368.15L62.52 368.15L62.52 378.45L64.16 378.45L64.16 388.74L65.80 388.74L65.80 356.14L67.44 356.14L67.44 383.59L69.08 383.59L69.08 384.45L70.72 384.45L70.72 390.46L72.36 390.46L72.36 368.15L74.00 368.15L74.00 375.01L75.64 375.01L75.64 367.29L77.28 367.29L77.28 381.88L78.92 381.88L78.92 393.03L80.56 393.03L80.56 366.43L82.20 366.43L82.20 379.30L83.84 379.30L83.84 375.01L85.48 375.01L85.48 358.71L87.12 358.71L87.12 383.59L88.76 383.59L88.76 393.03L90.40 393.03L90.40 368.15L92.04 368.15L92.04 381.88L93.68 381.88L93.68 368.15L95.32 368.15L95.32 372.44L96.96 372.44L96.96 369.01L98.60 369.01L98.60 383.59L100.24 383.59L100.24 381.88L101.88 381.88L101.88 352.71L103.52 352.71L103.52 370.72L105.16 370.72L105.16 368.15L106.80 368.15L106.80 381.88L108.44 381.88L108.44 374.16L110.08 374.16L110.08 376.73L111.72 376.73L111.72 367.29L113.36 367.29L113.36 373.30L115.00 373.30L115.00 365.58L116.64 365.58L116.64 359.57L118.28 359.57L118.28 374.16L119.92 374.16L119.92 375.87L121.56 375.87L121.56 358.71L123.20 358.71L123.20 367.29L124.84 367.29L124.84 372.44L126.48 372.44L126.48 383.59L128.12 383.59L128.12 368.15L129.76 368.15L129.76 320.96L131.40 320.96L131.40 320.96L133.04 320.96L133.04 374.16L134.68 374.16L134.68 385.31L136.32 385.31L136.32 357.85L137.96 357.85L137.96 375.87L139.60 375.87L139.60 365.58L141.24 365.58L141.24 356.14L142.88 356.14L142.88 366.43L144.52 366.43L144.52 374.16L146.16 374.16L146.16 355.28L147.80 355.28L147.80 357.00L149.44 357.00L149.44 359.57L151.08 359.57L151.08 367.29L152.72 367.29L152.72 371.58L154.36 371.58L154.36 371.58L156.00 371.58L156.00 365.58L157.64 365.58L157.64 372.44L159.28 372.44L159.28 359.57L160.92 359.57L160.92 363.00L162.56 363.00L162.56 362.14L164.20 362.14L164.20 352.71L165.84 352.71L165.84 351.85L167.48 351.85L167.48 377.59L169.12 377.59L169.12 345.33L170.76 345.33L170.76 367.29L172.40 367.29L172.40 372.44L174.04 372.44L174.04 353.56L175.68 353.56L175.68 367.29L177.32 367.29L177.32 364.72L178.96 364.72L178.96 367.29L180.60 367.29L180.60 367.29L182.24 367.29L182.24 362.14L183.88 362.14L183.88 363.86L185.52 363.86L185.52 348.84L187.16 348.84L187.16 354.42L188.80 354.42L188.80 373.30L190.44 373.30L190.44 381.88L192.08 381.88L192.08 367.29L193.72 367.29L193.72 345.33L195.36 345.33L195.36 367.29L197.00 367.29L197.00 373.30L198.64 373.30L198.64 362.14L200.28 362.14L200.28 356.14L201.92 356.14L201.92 357.85L203.56 357.85L203.56 365.58L205.20 365.58L205.20 365.58L206.84 365.58L206.84 365.58L208.48 365.58L208.48 364.72L210.12 364.72L210.12 380.51L211.76 380.51L211.76 380.51L213.40 380.51L213.40 475.40Z" fill="#000" stroke="none" stroke-width="0" />
<path d="M47.2 312.7V475.8" fill="none" stroke="#000" stroke-width="1.3" />
<path d="M47.2 475.40H45.0M47.2 458.24H45.0M47.2 441.08H45.0M47.2 423.92H45.0M47.2 406.76H45.0M47.2 389.60H45.0M47.2 372.44H45.0M47.2 355.28H45.0M47.2 338.12H45.0M47.2 320.96H45.0" fill="none" stroke="#000" stroke-width="1.0" />
<text transform="translate(38.98 478.65) scale(1.100 1)" text-anchor="start" style="font-size:9.2px;">0</text>
<text transform="translate(33.20 461.49) scale(1.100 1)" text-anchor="start" style="font-size:9.2px;">20</text>
<text transform="translate(33.20 444.33) scale(1.100 1)" text-anchor="start" style="font-size:9.2px;">40</text>
<text transform="translate(33.20 427.17) scale(1.100 1)" text-anchor="start" style="font-size:9.2px;">60</text>
<text transform="translate(33.20 410.01) scale(1.100 1)" text-anchor="start" style="font-size:9.2px;">80</text>
<text transform="translate(27.70 392.85) scale(1.100 1)" text-anchor="start" style="font-size:9.2px;">100</text>
<text transform="translate(27.70 375.69) scale(1.100 1)" text-anchor="start" style="font-size:9.2px;">120</text>
<text transform="translate(27.70 358.53) scale(1.100 1)" text-anchor="start" style="font-size:9.2px;">140</text>
<text transform="translate(27.70 341.37) scale(1.100 1)" text-anchor="start" style="font-size:9.2px;">160</text>
<text transform="translate(27.70 324.21) scale(1.100 1)" text-anchor="start" style="font-size:9.2px;">180</text>
<path d="M49.40 475.6V478.20000000000005M57.60 475.6V478.20000000000005M65.80 475.6V478.20000000000005M74.00 475.6V478.20000000000005M82.20 475.6V478.20000000000005M90.40 475.6V478.20000000000005M98.60 475.6V478.20000000000005M106.80 475.6V478.20000000000005M115.00 475.6V478.20000000000005M123.20 475.6V478.20000000000005M131.40 475.6V478.20000000000005M139.60 475.6V478.20000000000005M147.80 475.6V478.20000000000005M156.00 475.6V478.20000000000005M164.20 475.6V478.20000000000005M172.40 475.6V478.20000000000005M180.60 475.6V478.20000000000005M188.80 475.6V478.20000000000005M197.00 475.6V478.20000000000005M205.20 475.6V478.20000000000005M213.40 475.6V478.20000000000005" fill="none" stroke="#000" stroke-width="0.9" />
<text transform="translate(57.00 487.00) scale(1.100 1)" text-anchor="start" style="font-size:9.2px;">−8</text>
<text transform="translate(73.26 487.00) scale(1.100 1)" text-anchor="start" style="font-size:9.2px;">−6</text>
<text transform="translate(89.94 487.00) scale(1.100 1)" text-anchor="start" style="font-size:9.2px;">−4</text>
<text transform="translate(106.34 487.00) scale(1.100 1)" text-anchor="start" style="font-size:9.2px;">−2</text>
<text transform="translate(128.65 487.00) scale(1.100 1)" text-anchor="start" style="font-size:9.2px;">0</text>
<text transform="translate(144.91 487.00) scale(1.100 1)" text-anchor="start" style="font-size:9.2px;">2</text>
<text transform="translate(161.31 487.00) scale(1.100 1)" text-anchor="start" style="font-size:9.2px;">4</text>
<text transform="translate(177.71 487.00) scale(1.100 1)" text-anchor="start" style="font-size:9.2px;">6</text>
<text transform="translate(194.25 487.00) scale(1.100 1)" text-anchor="start" style="font-size:9.2px;">8</text>
<text transform="translate(113.83 496.80) scale(1.077 1)" text-anchor="start" style="font-size:9.4px;">Time (s)</text>
<text transform="translate(23.00 412.60) rotate(-90) scale(1.006 1.000)" style="font-size:10px;">Count</text>
<line x1="49.40" y1="343.90" x2="213.80" y2="343.90" stroke="#000" stroke-width="1.2" stroke-dasharray="1.6 0.8"/>
<line x1="49.40" y1="367.60" x2="131.40" y2="367.60" stroke="#000" stroke-width="1.1" stroke-dasharray="4.5 2.5"/>
<line x1="131.40" y1="367.60" x2="213.80" y2="367.60" stroke="#000" stroke-width="1.0" />
<path d="M253.00 474.80L253.00 400.14L254.64 400.14L254.64 401.23L256.28 401.23L256.28 402.33L257.92 402.33L257.92 406.36L259.56 406.36L259.56 397.21L261.20 397.21L261.20 405.26L262.84 405.26L262.84 404.89L264.48 404.89L264.48 375.61L266.12 375.61L266.12 403.80L267.76 403.80L267.76 405.26L269.40 405.26L269.40 378.54L271.04 378.54L271.04 406.36L272.68 406.36L272.68 386.23L274.32 386.23L274.32 404.16L275.96 404.16L275.96 374.52L277.60 374.52L277.60 397.21L279.24 397.21L279.24 386.23L280.88 386.23L280.88 404.89L282.52 404.89L282.52 389.89L284.16 389.89L284.16 379.27L285.80 379.27L285.80 381.10L287.44 381.10L287.44 389.52L289.08 389.52L289.08 381.10L290.72 381.10L290.72 396.48L292.36 396.48L292.36 384.40L294.00 384.40L294.00 395.38L295.64 395.38L295.64 393.55L297.28 393.55L297.28 401.23L298.92 401.23L298.92 373.42L300.56 373.42L300.56 388.06L302.20 388.06L302.20 374.88L303.84 374.88L303.84 400.50L305.48 400.50L305.48 381.10L307.12 381.10L307.12 371.95L308.76 371.95L308.76 376.35L310.40 376.35L310.40 386.23L312.04 386.23L312.04 379.27L313.68 379.27L313.68 376.35L315.32 376.35L315.32 403.43L316.96 403.43L316.96 374.88L318.60 374.88L318.60 386.23L320.24 386.23L320.24 378.54L321.88 378.54L321.88 375.61L323.52 375.61L323.52 383.30L325.16 383.30L325.16 376.35L326.80 376.35L326.80 363.90L328.44 363.90L328.44 397.57L330.08 397.57L330.08 409.65L331.72 409.65L331.72 405.26L333.36 405.26L333.36 319.98L335.00 319.98L335.00 327.30L336.64 327.30L336.64 401.23L338.28 401.23L338.28 391.35L339.92 391.35L339.92 359.51L341.56 359.51L341.56 391.35L343.20 391.35L343.20 386.23L344.84 386.23L344.84 374.52L346.48 374.52L346.48 370.12L348.12 370.12L348.12 377.22L349.76 377.22L349.76 381.65L351.40 381.65L351.40 395.01L353.04 395.01L353.04 367.56L354.68 367.56L354.68 374.52L356.32 374.52L356.32 392.23L357.96 392.23L357.96 380.01L359.60 380.01L359.60 364.74L361.24 364.74L361.24 378.91L362.88 378.91L362.88 383.30L364.52 383.30L364.52 381.84L366.16 381.84L366.16 390.44L367.80 390.44L367.80 368.29L369.44 368.29L369.44 391.35L371.08 391.35L371.08 370.12L372.72 370.12L372.72 370.12L374.36 370.12L374.36 383.30L376.00 383.30L376.00 387.69L377.64 387.69L377.64 380.74L379.28 380.74L379.28 380.74L380.92 380.74L380.92 356.95L382.56 356.95L382.56 387.69L384.20 387.69L384.20 371.95L385.84 371.95L385.84 382.57L387.48 382.57L387.48 380.74L389.12 380.74L389.12 368.29L390.76 368.29L390.76 386.96L392.40 386.96L392.40 367.56L394.04 367.56L394.04 391.35L395.68 391.35L395.68 370.12L397.32 370.12L397.32 380.74L398.96 380.74L398.96 360.24L400.60 360.24L400.60 381.84L402.24 381.84L402.24 386.23L403.88 386.23L403.88 367.56L405.52 367.56L405.52 395.74L407.16 395.74L407.16 362.07L408.80 362.07L408.80 371.95L410.44 371.95L410.44 378.91L412.08 378.91L412.08 392.08L413.72 392.08L413.72 373.05L415.36 373.05L415.36 376.71L417.00 376.71L417.00 474.80Z" fill="#000" stroke="none" stroke-width="0" />
<path d="M252.3 313.2V474.8" fill="none" stroke="#484848" stroke-width="2.0" />
<path d="M251.3 474.80H249.6M251.3 456.50H249.6M251.3 438.20H249.6M251.3 419.90H249.6M251.3 401.60H249.6M251.3 383.30H249.6M251.3 365.00H249.6M251.3 346.70H249.6M251.3 328.40H249.6" fill="none" stroke="#000" stroke-width="1.0" />
<text transform="translate(243.78 478.05) scale(1.100 1)" text-anchor="start" style="font-size:9.2px;">0</text>
<text transform="translate(238.00 459.75) scale(1.100 1)" text-anchor="start" style="font-size:9.2px;">50</text>
<text transform="translate(232.50 441.45) scale(1.100 1)" text-anchor="start" style="font-size:9.2px;">100</text>
<text transform="translate(232.50 423.15) scale(1.100 1)" text-anchor="start" style="font-size:9.2px;">150</text>
<text transform="translate(232.50 404.85) scale(1.100 1)" text-anchor="start" style="font-size:9.2px;">200</text>
<text transform="translate(232.50 386.55) scale(1.100 1)" text-anchor="start" style="font-size:9.2px;">250</text>
<text transform="translate(232.50 368.25) scale(1.100 1)" text-anchor="start" style="font-size:9.2px;">300</text>
<text transform="translate(232.50 349.95) scale(1.100 1)" text-anchor="start" style="font-size:9.2px;">350</text>
<text transform="translate(232.50 331.65) scale(1.100 1)" text-anchor="start" style="font-size:9.2px;">400</text>
<path d="M253.00 474.8V477.40000000000003M261.20 474.8V477.40000000000003M269.40 474.8V477.40000000000003M277.60 474.8V477.40000000000003M285.80 474.8V477.40000000000003M294.00 474.8V477.40000000000003M302.20 474.8V477.40000000000003M310.40 474.8V477.40000000000003M318.60 474.8V477.40000000000003M326.80 474.8V477.40000000000003M335.00 474.8V477.40000000000003M343.20 474.8V477.40000000000003M351.40 474.8V477.40000000000003M359.60 474.8V477.40000000000003M367.80 474.8V477.40000000000003M376.00 474.8V477.40000000000003M384.20 474.8V477.40000000000003M392.40 474.8V477.40000000000003M400.60 474.8V477.40000000000003M408.80 474.8V477.40000000000003M417.00 474.8V477.40000000000003" fill="none" stroke="#000" stroke-width="0.9" />
<text transform="translate(260.60 487.10) scale(1.100 1)" text-anchor="start" style="font-size:9.2px;">−8</text>
<text transform="translate(276.86 487.10) scale(1.100 1)" text-anchor="start" style="font-size:9.2px;">−6</text>
<text transform="translate(293.54 487.10) scale(1.100 1)" text-anchor="start" style="font-size:9.2px;">−4</text>
<text transform="translate(309.94 487.10) scale(1.100 1)" text-anchor="start" style="font-size:9.2px;">−2</text>
<text transform="translate(332.25 487.10) scale(1.100 1)" text-anchor="start" style="font-size:9.2px;">0</text>
<text transform="translate(348.51 487.10) scale(1.100 1)" text-anchor="start" style="font-size:9.2px;">2</text>
<text transform="translate(364.91 487.10) scale(1.100 1)" text-anchor="start" style="font-size:9.2px;">4</text>
<text transform="translate(381.31 487.10) scale(1.100 1)" text-anchor="start" style="font-size:9.2px;">6</text>
<text transform="translate(397.85 487.10) scale(1.100 1)" text-anchor="start" style="font-size:9.2px;">8</text>
<text transform="translate(318.12 496.80) scale(1.110 1)" text-anchor="start" style="font-size:9.4px;">Time (s)</text>
<text transform="translate(228.20 412.81) rotate(-90) scale(1.021 1.000)" style="font-size:10px;">Count</text>
<line x1="253.60" y1="353.90" x2="418.60" y2="353.90" stroke="#000" stroke-width="1.2" stroke-dasharray="1.6 0.8"/>
<line x1="253.60" y1="387.20" x2="335.00" y2="387.20" stroke="#000" stroke-width="1.1" stroke-dasharray="4.5 2.5"/>
<line x1="335.00" y1="387.20" x2="417.60" y2="387.20" stroke="#000" stroke-width="1.0" />
<text transform="translate(6.70 510.10) scale(1.188 1)" text-anchor="start" style="font-size:12.6px;font-style:italic;">D</text>
<text transform="translate(99.95 514.40) scale(1.110 1)" text-anchor="start" style="font-size:9.4px;">Cross correlation</text>
<text transform="translate(58.55 528.70) scale(1.110 1)" text-anchor="start" style="font-size:9.4px;">motor peaks to sympathetic events</text>
<path d="M53.20 702.20L53.20 641.26L54.85 641.26L54.85 640.46L56.50 640.46L56.50 655.58L58.15 655.58L58.15 632.54L59.80 632.54L59.80 606.03L61.45 606.03L61.45 615.62L63.10 615.62L63.10 643.93L64.75 643.93L64.75 617.62L66.40 617.62L66.40 618.28L68.05 618.28L68.05 642.93L69.70 642.93L69.70 583.99L71.35 583.99L71.35 634.27L73.00 634.27L73.00 630.94L74.65 630.94L74.65 636.93L76.30 636.93L76.30 622.95L77.95 622.95L77.95 606.96L79.60 606.96L79.60 618.28L81.25 618.28L81.25 614.29L82.90 614.29L82.90 641.26L84.55 641.26L84.55 627.21L86.20 627.21L86.20 641.26L87.85 641.26L87.85 637.73L89.50 637.73L89.50 621.95L91.15 621.95L91.15 614.29L92.80 614.29L92.80 630.94L94.45 630.94L94.45 596.44L96.10 596.44L96.10 606.03L97.75 606.03L97.75 636.00L99.40 636.00L99.40 650.25L101.05 650.25L101.05 625.61L102.70 625.61L102.70 641.26L104.35 641.26L104.35 620.28L106.00 620.28L106.00 595.64L107.65 595.64L107.65 614.95L109.30 614.95L109.30 597.31L110.95 597.31L110.95 612.29L112.60 612.29L112.60 628.94L114.25 628.94L114.25 621.95L115.90 621.95L115.90 638.26L117.55 638.26L117.55 599.90L119.20 599.90L119.20 622.95L120.85 622.95L120.85 595.64L122.50 595.64L122.50 611.89L124.15 611.89L124.15 620.28L125.80 620.28L125.80 607.96L127.45 607.96L127.45 638.26L129.10 638.26L129.10 627.21L130.75 627.21L130.75 652.92L132.40 652.92L132.40 606.96L134.05 606.96L134.05 540.03L135.70 540.03L135.70 621.95L137.35 621.95L137.35 634.27L139.00 634.27L139.00 632.54L140.65 632.54L140.65 613.09L142.30 613.09L142.30 583.99L143.95 583.99L143.95 613.09L145.60 613.09L145.60 606.96L147.25 606.96L147.25 595.64L148.90 595.64L148.90 612.29L150.55 612.29L150.55 631.80L152.20 631.80L152.20 609.63L153.85 609.63L153.85 608.63L155.50 608.63L155.50 599.90L157.15 599.90L157.15 606.96L158.80 606.96L158.80 614.95L160.45 614.95L160.45 632.54L162.10 632.54L162.10 614.29L163.75 614.29L163.75 620.28L165.40 620.28L165.40 609.63L167.05 609.63L167.05 613.09L168.70 613.09L168.70 605.10L170.35 605.10L170.35 598.30L172.00 598.30L172.00 601.63L173.65 601.63L173.65 620.28L175.30 620.28L175.30 591.98L176.95 591.98L176.95 630.94L178.60 630.94L178.60 615.69L180.25 615.69L180.25 595.64L181.90 595.64L181.90 569.13L183.55 569.13L183.55 620.28L185.20 620.28L185.20 634.93L186.85 634.93L186.85 642.26L188.50 642.26L188.50 597.31L190.15 597.31L190.15 620.28L191.80 620.28L191.80 616.55L193.45 616.55L193.45 591.98L195.10 591.98L195.10 612.29L196.75 612.29L196.75 611.89L198.40 611.89L198.40 640.46L200.05 640.46L200.05 610.96L201.70 610.96L201.70 623.81L203.35 623.81L203.35 612.29L205.00 612.29L205.00 616.55L206.65 616.55L206.65 591.98L208.30 591.98L208.30 583.99L209.95 583.99L209.95 595.64L211.60 595.64L211.60 612.29L213.25 612.29L213.25 625.61L214.90 625.61L214.90 633.60L216.55 633.60L216.55 616.55L218.20 616.55L218.20 702.20Z" fill="#000" stroke="none" stroke-width="0" />
<path d="M52.4 532.3V703.0" fill="none" stroke="#000" stroke-width="1.3" />
<path d="M52.4 702.20H50.0M52.4 685.55H50.0M52.4 668.90H50.0M52.4 652.25H50.0M52.4 635.60H50.0M52.4 618.95H50.0M52.4 602.30H50.0M52.4 585.65H50.0M52.4 569.00H50.0M52.4 552.35H50.0M52.4 535.70H50.0" fill="none" stroke="#000" stroke-width="1.0" />
<text transform="translate(42.57 705.45) scale(1.100 1)" text-anchor="start" style="font-size:9.2px;">0</text>
<text transform="translate(36.80 672.15) scale(1.100 1)" text-anchor="start" style="font-size:9.2px;">50</text>
<text transform="translate(31.30 638.85) scale(1.100 1)" text-anchor="start" style="font-size:9.2px;">100</text>
<text transform="translate(31.30 605.55) scale(1.100 1)" text-anchor="start" style="font-size:9.2px;">150</text>
<text transform="translate(31.30 572.25) scale(1.100 1)" text-anchor="start" style="font-size:9.2px;">200</text>
<text transform="translate(31.30 538.95) scale(1.100 1)" text-anchor="start" style="font-size:9.2px;">250</text>
<path d="M53.00 702.2V704.7M61.25 702.2V704.7M69.50 702.2V704.7M77.75 702.2V704.7M86.00 702.2V704.7M94.25 702.2V704.7M102.50 702.2V704.7M110.75 702.2V704.7M119.00 702.2V704.7M127.25 702.2V704.7M135.50 702.2V704.7M143.75 702.2V704.7M152.00 702.2V704.7M160.25 702.2V704.7M168.50 702.2V704.7M176.75 702.2V704.7M185.00 702.2V704.7M193.25 702.2V704.7M201.50 702.2V704.7M209.75 702.2V704.7M218.00 702.2V704.7" fill="none" stroke="#000" stroke-width="0.9" />
<text transform="translate(60.70 713.80) scale(1.100 1)" text-anchor="start" style="font-size:9.2px;">−8</text>
<text transform="translate(77.06 713.80) scale(1.100 1)" text-anchor="start" style="font-size:9.2px;">−6</text>
<text transform="translate(93.84 713.80) scale(1.100 1)" text-anchor="start" style="font-size:9.2px;">−4</text>
<text transform="translate(110.34 713.80) scale(1.100 1)" text-anchor="start" style="font-size:9.2px;">−2</text>
<text transform="translate(132.75 713.80) scale(1.100 1)" text-anchor="start" style="font-size:9.2px;">0</text>
<text transform="translate(149.11 713.80) scale(1.100 1)" text-anchor="start" style="font-size:9.2px;">2</text>
<text transform="translate(165.61 713.80) scale(1.100 1)" text-anchor="start" style="font-size:9.2px;">4</text>
<text transform="translate(182.11 713.80) scale(1.100 1)" text-anchor="start" style="font-size:9.2px;">6</text>
<text transform="translate(198.75 713.80) scale(1.100 1)" text-anchor="start" style="font-size:9.2px;">8</text>
<text transform="translate(118.12 724.20) scale(1.125 1)" text-anchor="start" style="font-size:9.4px;">Time (s)</text>
<text transform="translate(26.40 631.91) rotate(-90) scale(1.025 1.000)" style="font-size:10px;">Count</text>
<line x1="53.40" y1="577.70" x2="217.50" y2="577.70" stroke="#000" stroke-width="1.2" stroke-dasharray="1.6 0.8"/>
<line x1="53.40" y1="615.90" x2="135.50" y2="615.90" stroke="#000" stroke-width="1.1" stroke-dasharray="4.5 2.5"/>
<line x1="135.50" y1="615.90" x2="217.50" y2="615.90" stroke="#000" stroke-width="1.0" />
<path d="M131.50 533.70V539.10M129.10 535.30L133.90 537.50M129.10 537.50L133.90 535.30" fill="none" stroke="#000" stroke-width="1.0" />
<path d="M138.30 533.70V539.10M135.90 535.30L140.70 537.50M135.90 537.50L140.70 535.30" fill="none" stroke="#000" stroke-width="1.0" />
<text transform="translate(223.93 510.00) scale(1.091 1)" text-anchor="start" style="font-size:12.6px;font-style:italic;">E</text>
<text transform="translate(304.15 514.20) scale(1.110 1)" text-anchor="start" style="font-size:9.4px;">Cross correlation</text>
<text transform="translate(258.02 527.80) scale(1.108 1)" text-anchor="start" style="font-size:9.4px;">analog motor to sympathetic events</text>
<path d="M250.5 534.8V694.6" fill="none" stroke="#000" stroke-width="1.5" />
<path d="M250.5 535.9H253.2M250.5 575.5H253.2M250.5 615.1H253.2M250.5 654.7H253.2M250.5 694.3H253.2" fill="none" stroke="#000" stroke-width="1.0" />
<text transform="translate(232.72 539.03) scale(1.100 1)" text-anchor="start" style="font-size:8.8px;">0·6</text>
<text transform="translate(232.45 578.62) scale(1.100 1)" text-anchor="start" style="font-size:8.8px;">0·4</text>
<text transform="translate(232.72 618.23) scale(1.100 1)" text-anchor="start" style="font-size:8.8px;">0·2</text>
<text transform="translate(241.25 657.83) scale(1.100 1)" text-anchor="start" style="font-size:8.8px;">0</text>
<text transform="translate(226.95 697.43) scale(1.100 1)" text-anchor="start" style="font-size:8.8px;">−0·2</text>
<path d="M251.8 698.1H423.4" fill="none" stroke="#000" stroke-width="1.6" />
<path d="M253.0 698.1V702.2M270.0 698.1V702.2M287.0 698.1V702.2M304.0 698.1V702.2M321.0 698.1V702.2M338.0 698.1V702.2M355.0 698.1V702.2M372.0 698.1V702.2M389.0 698.1V702.2M406.0 698.1V702.2M423.0 698.1V702.2" fill="none" stroke="#000" stroke-width="0.9" />
<text transform="translate(244.06 711.60) scale(1.100 1)" text-anchor="start" style="font-size:9.2px;">−5</text>
<text transform="translate(261.34 711.60) scale(1.100 1)" text-anchor="start" style="font-size:9.2px;">−4</text>
<text transform="translate(278.20 711.60) scale(1.100 1)" text-anchor="start" style="font-size:9.2px;">−3</text>
<text transform="translate(295.34 711.60) scale(1.100 1)" text-anchor="start" style="font-size:9.2px;">−2</text>
<text transform="translate(312.20 711.60) scale(1.100 1)" text-anchor="start" style="font-size:9.2px;">−1</text>
<text transform="translate(335.25 711.60) scale(1.100 1)" text-anchor="start" style="font-size:9.2px;">0</text>
<text transform="translate(351.98 711.60) scale(1.100 1)" text-anchor="start" style="font-size:9.2px;">1</text>
<text transform="translate(369.11 711.60) scale(1.100 1)" text-anchor="start" style="font-size:9.2px;">2</text>
<text transform="translate(386.25 711.60) scale(1.100 1)" text-anchor="start" style="font-size:9.2px;">3</text>
<text transform="translate(403.11 711.60) scale(1.100 1)" text-anchor="start" style="font-size:9.2px;">4</text>
<text transform="translate(420.11 711.60) scale(1.100 1)" text-anchor="start" style="font-size:9.2px;">5</text>
<text transform="translate(320.02 723.40) scale(1.104 1)" text-anchor="start" style="font-size:9.4px;">Time (s)</text>
<text transform="translate(231.00 659.60) rotate(-90) scale(1.001 1.000)" style="font-size:10px;">Correlation coefficient</text>
<line x1="250.80" y1="649.30" x2="420.90" y2="649.30" stroke="#000" stroke-width="1.2" />
<line x1="250.80" y1="648.50" x2="376.00" y2="648.50" stroke="#000" stroke-width="0.9" stroke-dasharray="1 1"/>
<line x1="250.80" y1="660.70" x2="420.90" y2="660.70" stroke="#000" stroke-width="1.3" />
<line x1="420.90" y1="643.40" x2="420.90" y2="666.20" stroke="#000" stroke-width="1.3" />
<path d="M250.60 648.00C250.92 646.13 251.85 637.97 252.50 636.80C253.15 635.63 253.75 637.97 254.50 641.00C255.25 644.03 256.25 650.17 257.00 655.00C257.75 659.83 258.37 666.00 259.00 670.00C259.63 674.00 260.22 678.17 260.80 679.00C261.38 679.83 261.98 676.50 262.50 675.00C263.02 673.50 263.40 670.50 263.90 670.00C264.40 669.50 264.90 672.50 265.50 672.00C266.10 671.50 266.83 668.50 267.50 667.00C268.17 665.50 268.75 664.50 269.50 663.00C270.25 661.50 271.05 659.33 272.00 658.00C272.95 656.67 274.20 655.33 275.20 655.00C276.20 654.67 277.03 656.33 278.00 656.00C278.97 655.67 280.00 653.33 281.00 653.00C282.00 652.67 283.08 653.55 284.00 654.00C284.92 654.45 285.83 654.37 286.50 655.70C287.17 657.03 287.50 660.00 288.00 662.00C288.50 664.00 288.92 669.37 289.50 667.70C290.08 666.03 290.87 655.90 291.50 652.00C292.13 648.10 292.55 644.63 293.30 644.30C294.05 643.97 295.22 648.72 296.00 650.00C296.78 651.28 297.25 652.50 298.00 652.00C298.75 651.50 299.75 646.17 300.50 647.00C301.25 647.83 301.82 654.00 302.50 657.00C303.18 660.00 303.93 664.17 304.60 665.00C305.27 665.83 305.77 662.83 306.50 662.00C307.23 661.17 308.17 663.67 309.00 660.00C309.83 656.33 310.67 644.83 311.50 640.00C312.33 635.17 313.17 630.17 314.00 631.00C314.83 631.83 315.73 639.75 316.50 645.00C317.27 650.25 317.77 658.67 318.60 662.50C319.43 666.33 320.43 666.00 321.50 668.00C322.57 670.00 323.92 675.50 325.00 674.50C326.08 673.50 326.87 664.52 328.00 662.00C329.13 659.48 330.88 666.40 331.80 659.40C332.72 652.40 332.87 635.85 333.50 620.00C334.13 604.15 334.97 570.13 335.60 564.30C336.23 558.47 336.82 574.05 337.30 585.00C337.78 595.95 338.05 617.60 338.50 630.00C338.95 642.40 339.33 656.07 340.00 659.40C340.67 662.73 341.67 652.70 342.50 650.00C343.33 647.30 344.17 643.20 345.00 643.20C345.83 643.20 346.75 650.53 347.50 650.00C348.25 649.47 348.67 643.47 349.50 640.00C350.33 636.53 351.58 628.37 352.50 629.20C353.42 630.03 354.25 640.90 355.00 645.00C355.75 649.10 356.17 651.97 357.00 653.80C357.83 655.63 359.08 654.63 360.00 656.00C360.92 657.37 361.67 660.30 362.50 662.00C363.33 663.70 364.08 666.53 365.00 666.20C365.92 665.87 366.93 662.07 368.00 660.00C369.07 657.93 370.40 654.63 371.40 653.80C372.40 652.97 373.07 655.30 374.00 655.00C374.93 654.70 376.00 651.17 377.00 652.00C378.00 652.83 379.00 656.50 380.00 660.00C381.00 663.50 382.10 669.63 383.00 673.00C383.90 676.37 384.57 680.70 385.40 680.20C386.23 679.70 387.23 673.37 388.00 670.00C388.77 666.63 389.30 662.27 390.00 660.00C390.70 657.73 391.37 656.90 392.20 656.40C393.03 655.90 394.12 656.40 395.00 657.00C395.88 657.60 396.67 658.17 397.50 660.00C398.33 661.83 399.32 666.08 400.00 668.00C400.68 669.92 400.93 672.50 401.60 671.50C402.27 670.50 403.18 666.42 404.00 662.00C404.82 657.58 405.67 649.08 406.50 645.00C407.33 640.92 408.17 636.67 409.00 637.50C409.83 638.33 410.67 645.42 411.50 650.00C412.33 654.58 413.25 664.67 414.00 665.00C414.75 665.33 415.37 655.95 416.00 652.00C416.63 648.05 417.22 642.63 417.80 641.30C418.38 639.97 419.05 642.88 419.50 644.00C419.95 645.12 420.33 647.33 420.50 648.00" fill="none" stroke="#000" stroke-width="1.7" stroke-linejoin="round"/>
</svg>
</body></html>
